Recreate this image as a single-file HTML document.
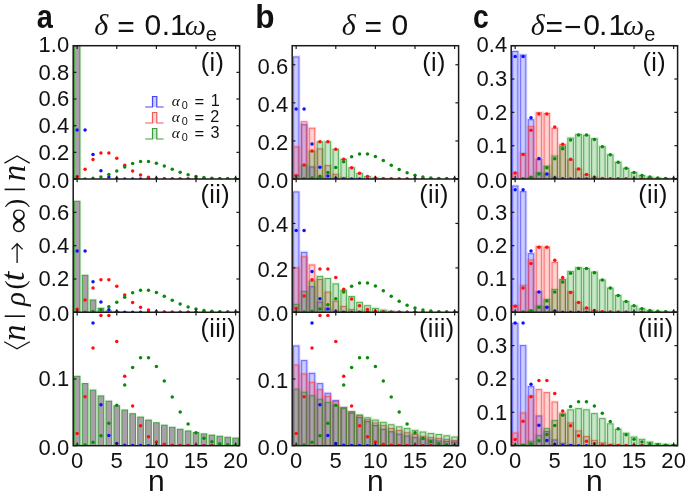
<!DOCTYPE html>
<html><head><meta charset="utf-8"><style>
html,body{margin:0;padding:0;background:#fff;}
svg{display:block;will-change:transform;}
text{font-family:"Liberation Sans", sans-serif;fill:#111;}
.tl{font-size:22px;letter-spacing:0.1px;}
.pl{font-size:25.2px;letter-spacing:0.4px;}
.nl{font-size:30px;}
.cl{font-size:32px;font-weight:bold;}
.tt{font-size:25px;}
.gi{font-family:"Liberation Serif", serif;font-style:italic;}
.sub{font-size:17px;}
.lg{font-size:14.5px;fill:#222;}
.lsub{font-size:11px;}
.yl{font-size:27px;}
.si{font-family:"Liberation Serif", serif;font-style:italic;}
.sr{font-family:"Liberation Serif", serif;}
.ar{font-family:"Liberation Sans", sans-serif;}
</style></head><body>
<svg width="686" height="497" viewBox="0 0 686 497">
<defs>
<clipPath id="c00"><rect x="73.2" y="45.7" width="166.4" height="133.33"/></clipPath>
<clipPath id="c01"><rect x="73.2" y="179" width="166.4" height="133.33"/></clipPath>
<clipPath id="c02"><rect x="73.2" y="312.3" width="166.4" height="133.33"/></clipPath>
<clipPath id="c10"><rect x="292.2" y="45.7" width="166.4" height="133.33"/></clipPath>
<clipPath id="c11"><rect x="292.2" y="179" width="166.4" height="133.33"/></clipPath>
<clipPath id="c12"><rect x="292.2" y="312.3" width="166.4" height="133.33"/></clipPath>
<clipPath id="c20"><rect x="511.2" y="45.7" width="166.4" height="133.33"/></clipPath>
<clipPath id="c21"><rect x="511.2" y="179" width="166.4" height="133.33"/></clipPath>
<clipPath id="c22"><rect x="511.2" y="312.3" width="166.4" height="133.33"/></clipPath>
</defs>
<g clip-path="url(#c00)">
<g fill="none" stroke="rgba(0,170,0,0.07)" stroke-width="3.0">
<rect x="74.35" y="45.7" width="5.63" height="134.33"/>
</g>
<g fill="rgb(170,158,168)" stroke="rgba(40,150,40,0.85)" stroke-width="1">
<rect x="74.35" y="45.7" width="5.63" height="134.33"/>
</g>
<g fill="#1010ff">
<circle cx="77.16" cy="129.98" r="1.75"/>
<circle cx="85.09" cy="129.98" r="1.75"/>
<circle cx="93.01" cy="154.51" r="1.75"/>
<circle cx="100.93" cy="170.86" r="1.75"/>
<circle cx="108.86" cy="176.99" r="1.75"/>
<circle cx="116.78" cy="178.62" r="1.75"/>
<circle cx="124.7" cy="178.96" r="1.75"/>
<circle cx="132.63" cy="179.02" r="1.75"/>
<circle cx="140.55" cy="179.03" r="1.75"/>
<circle cx="148.48" cy="179.03" r="1.75"/>
<circle cx="156.4" cy="179.03" r="1.75"/>
<circle cx="164.32" cy="179.03" r="1.75"/>
<circle cx="172.25" cy="179.03" r="1.75"/>
<circle cx="180.17" cy="179.03" r="1.75"/>
<circle cx="188.1" cy="179.03" r="1.75"/>
<circle cx="196.02" cy="179.03" r="1.75"/>
<circle cx="203.94" cy="179.03" r="1.75"/>
<circle cx="211.87" cy="179.03" r="1.75"/>
<circle cx="219.79" cy="179.03" r="1.75"/>
<circle cx="227.71" cy="179.03" r="1.75"/>
<circle cx="235.64" cy="179.03" r="1.75"/>
</g>
<g fill="#ff1010">
<circle cx="77.16" cy="176.59" r="1.75"/>
<circle cx="85.09" cy="169.26" r="1.75"/>
<circle cx="93.01" cy="159.49" r="1.75"/>
<circle cx="100.93" cy="152.98" r="1.75"/>
<circle cx="108.86" cy="152.98" r="1.75"/>
<circle cx="116.78" cy="158.19" r="1.75"/>
<circle cx="124.7" cy="165.14" r="1.75"/>
<circle cx="132.63" cy="171.09" r="1.75"/>
<circle cx="140.55" cy="175.06" r="1.75"/>
<circle cx="148.48" cy="177.27" r="1.75"/>
<circle cx="156.4" cy="178.32" r="1.75"/>
<circle cx="164.32" cy="178.77" r="1.75"/>
<circle cx="172.25" cy="178.94" r="1.75"/>
<circle cx="180.17" cy="179" r="1.75"/>
<circle cx="188.1" cy="179.02" r="1.75"/>
<circle cx="196.02" cy="179.03" r="1.75"/>
<circle cx="203.94" cy="179.03" r="1.75"/>
<circle cx="211.87" cy="179.03" r="1.75"/>
<circle cx="219.79" cy="179.03" r="1.75"/>
<circle cx="227.71" cy="179.03" r="1.75"/>
<circle cx="235.64" cy="179.03" r="1.75"/>
</g>
<g fill="#0a8a0a">
<circle cx="77.16" cy="179.01" r="1.75"/>
<circle cx="85.09" cy="178.88" r="1.75"/>
<circle cx="93.01" cy="178.36" r="1.75"/>
<circle cx="100.93" cy="177.03" r="1.75"/>
<circle cx="108.86" cy="174.53" r="1.75"/>
<circle cx="116.78" cy="170.93" r="1.75"/>
<circle cx="124.7" cy="166.88" r="1.75"/>
<circle cx="132.63" cy="163.41" r="1.75"/>
<circle cx="140.55" cy="161.46" r="1.75"/>
<circle cx="148.48" cy="161.46" r="1.75"/>
<circle cx="156.4" cy="163.22" r="1.75"/>
<circle cx="164.32" cy="166.09" r="1.75"/>
<circle cx="172.25" cy="169.33" r="1.75"/>
<circle cx="180.17" cy="172.31" r="1.75"/>
<circle cx="188.1" cy="174.71" r="1.75"/>
<circle cx="196.02" cy="176.44" r="1.75"/>
<circle cx="203.94" cy="177.57" r="1.75"/>
<circle cx="211.87" cy="178.26" r="1.75"/>
<circle cx="219.79" cy="178.64" r="1.75"/>
<circle cx="227.71" cy="178.85" r="1.75"/>
<circle cx="235.64" cy="178.95" r="1.75"/>
</g>
</g>
<g stroke="#1a1a1a" stroke-width="1.2">
<line x1="77.16" y1="45.7" x2="77.16" y2="48.9"/>
<line x1="77.16" y1="179.03" x2="77.16" y2="175.83"/>
<line x1="116.78" y1="45.7" x2="116.78" y2="48.9"/>
<line x1="116.78" y1="179.03" x2="116.78" y2="175.83"/>
<line x1="156.4" y1="45.7" x2="156.4" y2="48.9"/>
<line x1="156.4" y1="179.03" x2="156.4" y2="175.83"/>
<line x1="196.02" y1="45.7" x2="196.02" y2="48.9"/>
<line x1="196.02" y1="179.03" x2="196.02" y2="175.83"/>
<line x1="235.64" y1="45.7" x2="235.64" y2="48.9"/>
<line x1="235.64" y1="179.03" x2="235.64" y2="175.83"/>
<line x1="73.2" y1="179.03" x2="76.4" y2="179.03"/>
<line x1="239.6" y1="179.03" x2="236.4" y2="179.03"/>
<line x1="73.2" y1="152.36" x2="76.4" y2="152.36"/>
<line x1="239.6" y1="152.36" x2="236.4" y2="152.36"/>
<line x1="73.2" y1="125.7" x2="76.4" y2="125.7"/>
<line x1="239.6" y1="125.7" x2="236.4" y2="125.7"/>
<line x1="73.2" y1="99.03" x2="76.4" y2="99.03"/>
<line x1="239.6" y1="99.03" x2="236.4" y2="99.03"/>
<line x1="73.2" y1="72.37" x2="76.4" y2="72.37"/>
<line x1="239.6" y1="72.37" x2="236.4" y2="72.37"/>
<line x1="73.2" y1="45.7" x2="76.4" y2="45.7"/>
<line x1="239.6" y1="45.7" x2="236.4" y2="45.7"/>
</g>
<text x="69.4" y="187.93" class="tl" text-anchor="end">0.0</text>
<text x="69.4" y="159.76" class="tl" text-anchor="end">0.2</text>
<text x="69.4" y="133.1" class="tl" text-anchor="end">0.4</text>
<text x="69.4" y="106.43" class="tl" text-anchor="end">0.6</text>
<text x="69.4" y="79.77" class="tl" text-anchor="end">0.8</text>
<text x="69.4" y="51.9" class="tl" text-anchor="end">1.0</text>
<text x="200.8" y="70.6" class="pl">(i)</text>
<g clip-path="url(#c01)">
<g fill="none" stroke="rgba(0,170,0,0.07)" stroke-width="3.0">
<rect x="74.35" y="201.22" width="5.63" height="112.11"/>
<rect x="82.27" y="275.29" width="5.63" height="38.04"/>
<rect x="90.2" y="299.98" width="5.63" height="13.35"/>
<rect x="98.12" y="308.21" width="5.63" height="5.12"/>
<rect x="106.04" y="310.96" width="5.63" height="2.37"/>
<rect x="113.97" y="311.87" width="5.63" height="1.46"/>
<rect x="121.89" y="312.18" width="5.63" height="1.15"/>
</g>
<g fill="rgb(170,158,168)" stroke="rgba(40,150,40,0.85)" stroke-width="1">
<rect x="74.35" y="201.22" width="5.63" height="112.11"/>
<rect x="82.27" y="275.29" width="5.63" height="38.04"/>
<rect x="90.2" y="299.98" width="5.63" height="13.35"/>
<rect x="98.12" y="308.21" width="5.63" height="5.12"/>
<rect x="106.04" y="310.96" width="5.63" height="2.37"/>
<rect x="113.97" y="311.87" width="5.63" height="1.46"/>
<rect x="121.89" y="312.18" width="5.63" height="1.15"/>
</g>
<g fill="#1010ff">
<circle cx="77.16" cy="251.02" r="1.75"/>
<circle cx="85.09" cy="251.02" r="1.75"/>
<circle cx="93.01" cy="281.67" r="1.75"/>
<circle cx="100.93" cy="302.11" r="1.75"/>
<circle cx="108.86" cy="309.78" r="1.75"/>
<circle cx="116.78" cy="311.82" r="1.75"/>
<circle cx="124.7" cy="312.24" r="1.75"/>
<circle cx="132.63" cy="312.32" r="1.75"/>
<circle cx="140.55" cy="312.33" r="1.75"/>
<circle cx="148.48" cy="312.33" r="1.75"/>
<circle cx="156.4" cy="312.33" r="1.75"/>
<circle cx="164.32" cy="312.33" r="1.75"/>
<circle cx="172.25" cy="312.33" r="1.75"/>
<circle cx="180.17" cy="312.33" r="1.75"/>
<circle cx="188.1" cy="312.33" r="1.75"/>
<circle cx="196.02" cy="312.33" r="1.75"/>
<circle cx="203.94" cy="312.33" r="1.75"/>
<circle cx="211.87" cy="312.33" r="1.75"/>
<circle cx="219.79" cy="312.33" r="1.75"/>
<circle cx="227.71" cy="312.33" r="1.75"/>
<circle cx="235.64" cy="312.33" r="1.75"/>
</g>
<g fill="#ff1010">
<circle cx="77.16" cy="309.28" r="1.75"/>
<circle cx="85.09" cy="300.12" r="1.75"/>
<circle cx="93.01" cy="287.91" r="1.75"/>
<circle cx="100.93" cy="279.77" r="1.75"/>
<circle cx="108.86" cy="279.77" r="1.75"/>
<circle cx="116.78" cy="286.28" r="1.75"/>
<circle cx="124.7" cy="294.96" r="1.75"/>
<circle cx="132.63" cy="302.41" r="1.75"/>
<circle cx="140.55" cy="307.37" r="1.75"/>
<circle cx="148.48" cy="310.12" r="1.75"/>
<circle cx="156.4" cy="311.45" r="1.75"/>
<circle cx="164.32" cy="312.01" r="1.75"/>
<circle cx="172.25" cy="312.22" r="1.75"/>
<circle cx="180.17" cy="312.3" r="1.75"/>
<circle cx="188.1" cy="312.32" r="1.75"/>
<circle cx="196.02" cy="312.33" r="1.75"/>
<circle cx="203.94" cy="312.33" r="1.75"/>
<circle cx="211.87" cy="312.33" r="1.75"/>
<circle cx="219.79" cy="312.33" r="1.75"/>
<circle cx="227.71" cy="312.33" r="1.75"/>
<circle cx="235.64" cy="312.33" r="1.75"/>
</g>
<g fill="#0a8a0a">
<circle cx="77.16" cy="312.31" r="1.75"/>
<circle cx="85.09" cy="312.14" r="1.75"/>
<circle cx="93.01" cy="311.5" r="1.75"/>
<circle cx="100.93" cy="309.83" r="1.75"/>
<circle cx="108.86" cy="306.71" r="1.75"/>
<circle cx="116.78" cy="302.21" r="1.75"/>
<circle cx="124.7" cy="297.15" r="1.75"/>
<circle cx="132.63" cy="292.81" r="1.75"/>
<circle cx="140.55" cy="290.37" r="1.75"/>
<circle cx="148.48" cy="290.37" r="1.75"/>
<circle cx="156.4" cy="292.57" r="1.75"/>
<circle cx="164.32" cy="296.16" r="1.75"/>
<circle cx="172.25" cy="300.2" r="1.75"/>
<circle cx="180.17" cy="303.93" r="1.75"/>
<circle cx="188.1" cy="306.93" r="1.75"/>
<circle cx="196.02" cy="309.09" r="1.75"/>
<circle cx="203.94" cy="310.51" r="1.75"/>
<circle cx="211.87" cy="311.37" r="1.75"/>
<circle cx="219.79" cy="311.85" r="1.75"/>
<circle cx="227.71" cy="312.1" r="1.75"/>
<circle cx="235.64" cy="312.23" r="1.75"/>
</g>
</g>
<g stroke="#1a1a1a" stroke-width="1.2">
<line x1="77.16" y1="179" x2="77.16" y2="182.2"/>
<line x1="77.16" y1="312.33" x2="77.16" y2="309.13"/>
<line x1="116.78" y1="179" x2="116.78" y2="182.2"/>
<line x1="116.78" y1="312.33" x2="116.78" y2="309.13"/>
<line x1="156.4" y1="179" x2="156.4" y2="182.2"/>
<line x1="156.4" y1="312.33" x2="156.4" y2="309.13"/>
<line x1="196.02" y1="179" x2="196.02" y2="182.2"/>
<line x1="196.02" y1="312.33" x2="196.02" y2="309.13"/>
<line x1="235.64" y1="179" x2="235.64" y2="182.2"/>
<line x1="235.64" y1="312.33" x2="235.64" y2="309.13"/>
<line x1="73.2" y1="312.33" x2="76.4" y2="312.33"/>
<line x1="239.6" y1="312.33" x2="236.4" y2="312.33"/>
<line x1="73.2" y1="279" x2="76.4" y2="279"/>
<line x1="239.6" y1="279" x2="236.4" y2="279"/>
<line x1="73.2" y1="245.67" x2="76.4" y2="245.67"/>
<line x1="239.6" y1="245.67" x2="236.4" y2="245.67"/>
<line x1="73.2" y1="212.33" x2="76.4" y2="212.33"/>
<line x1="239.6" y1="212.33" x2="236.4" y2="212.33"/>
<line x1="73.2" y1="179" x2="76.4" y2="179"/>
<line x1="239.6" y1="179" x2="236.4" y2="179"/>
</g>
<text x="69.4" y="321.23" class="tl" text-anchor="end">0.0</text>
<text x="69.4" y="286.4" class="tl" text-anchor="end">0.2</text>
<text x="69.4" y="253.07" class="tl" text-anchor="end">0.4</text>
<text x="69.4" y="219.73" class="tl" text-anchor="end">0.6</text>
<text x="200.5" y="202.9" class="pl">(ii)</text>
<g clip-path="url(#c02)">
<g fill="none" stroke="rgba(0,170,0,0.07)" stroke-width="3.0">
<rect x="74.35" y="376.3" width="5.63" height="70.33"/>
<rect x="82.27" y="383.58" width="5.63" height="63.05"/>
<rect x="90.2" y="390.09" width="5.63" height="56.54"/>
<rect x="98.12" y="395.92" width="5.63" height="50.71"/>
<rect x="106.04" y="401.14" width="5.63" height="45.49"/>
<rect x="113.97" y="405.82" width="5.63" height="40.81"/>
<rect x="121.89" y="410" width="5.63" height="36.63"/>
<rect x="129.82" y="413.74" width="5.63" height="32.89"/>
<rect x="137.74" y="417.09" width="5.63" height="29.54"/>
<rect x="145.66" y="420.08" width="5.63" height="26.55"/>
<rect x="153.59" y="422.77" width="5.63" height="23.86"/>
<rect x="161.51" y="425.17" width="5.63" height="21.46"/>
<rect x="169.43" y="427.31" width="5.63" height="19.32"/>
<rect x="177.36" y="429.24" width="5.63" height="17.39"/>
<rect x="185.28" y="430.96" width="5.63" height="15.67"/>
<rect x="193.21" y="432.5" width="5.63" height="14.13"/>
<rect x="201.13" y="433.88" width="5.63" height="12.75"/>
<rect x="209.05" y="435.11" width="5.63" height="11.52"/>
<rect x="216.98" y="436.22" width="5.63" height="10.41"/>
<rect x="224.9" y="437.21" width="5.63" height="9.42"/>
<rect x="232.83" y="438.09" width="5.63" height="8.54"/>
</g>
<g fill="rgb(170,158,168)" stroke="rgba(40,150,40,0.85)" stroke-width="1">
<rect x="74.35" y="376.3" width="5.63" height="70.33"/>
<rect x="82.27" y="383.58" width="5.63" height="63.05"/>
<rect x="90.2" y="390.09" width="5.63" height="56.54"/>
<rect x="98.12" y="395.92" width="5.63" height="50.71"/>
<rect x="106.04" y="401.14" width="5.63" height="45.49"/>
<rect x="113.97" y="405.82" width="5.63" height="40.81"/>
<rect x="121.89" y="410" width="5.63" height="36.63"/>
<rect x="129.82" y="413.74" width="5.63" height="32.89"/>
<rect x="137.74" y="417.09" width="5.63" height="29.54"/>
<rect x="145.66" y="420.08" width="5.63" height="26.55"/>
<rect x="153.59" y="422.77" width="5.63" height="23.86"/>
<rect x="161.51" y="425.17" width="5.63" height="21.46"/>
<rect x="169.43" y="427.31" width="5.63" height="19.32"/>
<rect x="177.36" y="429.24" width="5.63" height="17.39"/>
<rect x="185.28" y="430.96" width="5.63" height="15.67"/>
<rect x="193.21" y="432.5" width="5.63" height="14.13"/>
<rect x="201.13" y="433.88" width="5.63" height="12.75"/>
<rect x="209.05" y="435.11" width="5.63" height="11.52"/>
<rect x="216.98" y="436.22" width="5.63" height="10.41"/>
<rect x="224.9" y="437.21" width="5.63" height="9.42"/>
<rect x="232.83" y="438.09" width="5.63" height="8.54"/>
</g>
<g fill="#1010ff">
<circle cx="93.01" cy="323.01" r="1.75"/>
<circle cx="100.93" cy="404.76" r="1.75"/>
<circle cx="108.86" cy="435.41" r="1.75"/>
<circle cx="116.78" cy="443.59" r="1.75"/>
<circle cx="124.7" cy="445.29" r="1.75"/>
<circle cx="132.63" cy="445.58" r="1.75"/>
<circle cx="140.55" cy="445.62" r="1.75"/>
<circle cx="148.48" cy="445.63" r="1.75"/>
<circle cx="156.4" cy="445.63" r="1.75"/>
<circle cx="164.32" cy="445.63" r="1.75"/>
<circle cx="172.25" cy="445.63" r="1.75"/>
<circle cx="180.17" cy="445.63" r="1.75"/>
<circle cx="188.1" cy="445.63" r="1.75"/>
<circle cx="196.02" cy="445.63" r="1.75"/>
<circle cx="203.94" cy="445.63" r="1.75"/>
<circle cx="211.87" cy="445.63" r="1.75"/>
<circle cx="219.79" cy="445.63" r="1.75"/>
<circle cx="227.71" cy="445.63" r="1.75"/>
<circle cx="235.64" cy="445.63" r="1.75"/>
</g>
<g fill="#ff1010">
<circle cx="77.16" cy="433.42" r="1.75"/>
<circle cx="85.09" cy="396.79" r="1.75"/>
<circle cx="93.01" cy="347.95" r="1.75"/>
<circle cx="100.93" cy="315.39" r="1.75"/>
<circle cx="108.86" cy="315.39" r="1.75"/>
<circle cx="116.78" cy="341.44" r="1.75"/>
<circle cx="124.7" cy="376.17" r="1.75"/>
<circle cx="132.63" cy="405.94" r="1.75"/>
<circle cx="140.55" cy="425.78" r="1.75"/>
<circle cx="148.48" cy="436.81" r="1.75"/>
<circle cx="156.4" cy="442.1" r="1.75"/>
<circle cx="164.32" cy="444.35" r="1.75"/>
<circle cx="172.25" cy="445.2" r="1.75"/>
<circle cx="180.17" cy="445.5" r="1.75"/>
<circle cx="188.1" cy="445.59" r="1.75"/>
<circle cx="196.02" cy="445.62" r="1.75"/>
<circle cx="203.94" cy="445.63" r="1.75"/>
<circle cx="211.87" cy="445.63" r="1.75"/>
<circle cx="219.79" cy="445.63" r="1.75"/>
<circle cx="227.71" cy="445.63" r="1.75"/>
<circle cx="235.64" cy="445.63" r="1.75"/>
</g>
<g fill="#0a8a0a">
<circle cx="77.16" cy="445.55" r="1.75"/>
<circle cx="85.09" cy="444.89" r="1.75"/>
<circle cx="93.01" cy="442.3" r="1.75"/>
<circle cx="100.93" cy="435.63" r="1.75"/>
<circle cx="108.86" cy="423.14" r="1.75"/>
<circle cx="116.78" cy="405.15" r="1.75"/>
<circle cx="124.7" cy="384.9" r="1.75"/>
<circle cx="132.63" cy="367.55" r="1.75"/>
<circle cx="140.55" cy="357.8" r="1.75"/>
<circle cx="148.48" cy="357.8" r="1.75"/>
<circle cx="156.4" cy="366.58" r="1.75"/>
<circle cx="164.32" cy="380.95" r="1.75"/>
<circle cx="172.25" cy="397.12" r="1.75"/>
<circle cx="180.17" cy="412.05" r="1.75"/>
<circle cx="188.1" cy="424.04" r="1.75"/>
<circle cx="196.02" cy="432.68" r="1.75"/>
<circle cx="203.94" cy="438.34" r="1.75"/>
<circle cx="211.87" cy="441.77" r="1.75"/>
<circle cx="219.79" cy="443.7" r="1.75"/>
<circle cx="227.71" cy="444.72" r="1.75"/>
<circle cx="235.64" cy="445.22" r="1.75"/>
</g>
</g>
<g stroke="#1a1a1a" stroke-width="1.2">
<line x1="77.16" y1="312.3" x2="77.16" y2="315.5"/>
<line x1="77.16" y1="445.63" x2="77.16" y2="442.43"/>
<line x1="116.78" y1="312.3" x2="116.78" y2="315.5"/>
<line x1="116.78" y1="445.63" x2="116.78" y2="442.43"/>
<line x1="156.4" y1="312.3" x2="156.4" y2="315.5"/>
<line x1="156.4" y1="445.63" x2="156.4" y2="442.43"/>
<line x1="196.02" y1="312.3" x2="196.02" y2="315.5"/>
<line x1="196.02" y1="445.63" x2="196.02" y2="442.43"/>
<line x1="235.64" y1="312.3" x2="235.64" y2="315.5"/>
<line x1="235.64" y1="445.63" x2="235.64" y2="442.43"/>
<line x1="73.2" y1="445.63" x2="76.4" y2="445.63"/>
<line x1="239.6" y1="445.63" x2="236.4" y2="445.63"/>
<line x1="73.2" y1="378.96" x2="76.4" y2="378.96"/>
<line x1="239.6" y1="378.96" x2="236.4" y2="378.96"/>
<line x1="73.2" y1="312.3" x2="76.4" y2="312.3"/>
<line x1="239.6" y1="312.3" x2="236.4" y2="312.3"/>
</g>
<text x="69.4" y="454.53" class="tl" text-anchor="end">0.0</text>
<text x="69.4" y="386.37" class="tl" text-anchor="end">0.1</text>
<text x="200.5" y="336.7" class="pl">(iii)</text>
<g fill="none" stroke="#1a1a1a" stroke-width="1.5">
<rect x="73.2" y="45.7" width="166.4" height="399.99"/>
<line x1="73.2" y1="179" x2="239.6" y2="179"/>
<line x1="73.2" y1="312.3" x2="239.6" y2="312.3"/>
</g>
<text x="77.16" y="467.8" class="tl" text-anchor="middle">0</text>
<text x="116.78" y="467.8" class="tl" text-anchor="middle">5</text>
<text x="156.4" y="467.8" class="tl" text-anchor="middle">10</text>
<text x="196.02" y="467.8" class="tl" text-anchor="middle">15</text>
<text x="235.64" y="467.8" class="tl" text-anchor="middle">20</text>
<text x="156.4" y="491" class="nl" text-anchor="middle">n</text>
<g clip-path="url(#c10)">
<g fill="none" stroke="rgba(0,0,255,0.10)" stroke-width="3.2">
<rect x="293.35" y="56.9" width="5.63" height="123.13"/>
<rect x="301.27" y="124.75" width="5.63" height="55.28"/>
<rect x="309.2" y="166.97" width="5.63" height="13.06"/>
<rect x="317.12" y="177.24" width="5.63" height="2.79"/>
<rect x="325.04" y="178.83" width="5.63" height="1.2"/>
</g>
<g fill="none" stroke="rgba(255,0,0,0.10)" stroke-width="3.2">
<rect x="293.35" y="146.84" width="5.63" height="33.19"/>
<rect x="301.27" y="121.8" width="5.63" height="58.23"/>
<rect x="309.2" y="128.16" width="5.63" height="51.87"/>
<rect x="317.12" y="148.88" width="5.63" height="31.15"/>
<rect x="325.04" y="165.63" width="5.63" height="14.4"/>
<rect x="332.97" y="174.27" width="5.63" height="5.76"/>
<rect x="340.89" y="177.62" width="5.63" height="2.41"/>
<rect x="348.82" y="178.67" width="5.63" height="1.36"/>
<rect x="356.74" y="178.95" width="5.63" height="1.08"/>
</g>
<g fill="none" stroke="rgba(0,160,0,0.12)" stroke-width="3.2">
<rect x="293.35" y="175.54" width="5.63" height="4.49"/>
<rect x="301.27" y="165.08" width="5.63" height="14.95"/>
<rect x="309.2" y="151.12" width="5.63" height="28.91"/>
<rect x="317.12" y="141.82" width="5.63" height="38.21"/>
<rect x="325.04" y="141.82" width="5.63" height="38.21"/>
<rect x="332.97" y="149.26" width="5.63" height="30.77"/>
<rect x="340.89" y="159.18" width="5.63" height="20.85"/>
<rect x="348.82" y="167.69" width="5.63" height="12.34"/>
<rect x="356.74" y="173.36" width="5.63" height="6.67"/>
<rect x="364.66" y="176.51" width="5.63" height="3.52"/>
<rect x="372.59" y="178.02" width="5.63" height="2.01"/>
<rect x="380.51" y="178.66" width="5.63" height="1.37"/>
<rect x="388.43" y="178.91" width="5.63" height="1.12"/>
</g>
<g fill="#0000ff" fill-opacity="0.2" stroke="rgba(70,70,255,0.85)" stroke-width="0.85">
<rect x="293.35" y="56.9" width="5.63" height="123.13"/>
<rect x="301.27" y="124.75" width="5.63" height="55.28"/>
<rect x="309.2" y="166.97" width="5.63" height="13.06"/>
<rect x="317.12" y="177.24" width="5.63" height="2.79"/>
<rect x="325.04" y="178.83" width="5.63" height="1.2"/>
</g>
<g fill="#ff0000" fill-opacity="0.17" stroke="rgba(255,70,70,0.85)" stroke-width="0.85">
<rect x="293.35" y="146.84" width="5.63" height="33.19"/>
<rect x="301.27" y="121.8" width="5.63" height="58.23"/>
<rect x="309.2" y="128.16" width="5.63" height="51.87"/>
<rect x="317.12" y="148.88" width="5.63" height="31.15"/>
<rect x="325.04" y="165.63" width="5.63" height="14.4"/>
<rect x="332.97" y="174.27" width="5.63" height="5.76"/>
<rect x="340.89" y="177.62" width="5.63" height="2.41"/>
<rect x="348.82" y="178.67" width="5.63" height="1.36"/>
<rect x="356.74" y="178.95" width="5.63" height="1.08"/>
</g>
<g fill="#008000" fill-opacity="0.2" stroke="rgba(40,150,40,0.8)" stroke-width="0.85">
<rect x="293.35" y="175.54" width="5.63" height="4.49"/>
<rect x="301.27" y="165.08" width="5.63" height="14.95"/>
<rect x="309.2" y="151.12" width="5.63" height="28.91"/>
<rect x="317.12" y="141.82" width="5.63" height="38.21"/>
<rect x="325.04" y="141.82" width="5.63" height="38.21"/>
<rect x="332.97" y="149.26" width="5.63" height="30.77"/>
<rect x="340.89" y="159.18" width="5.63" height="20.85"/>
<rect x="348.82" y="167.69" width="5.63" height="12.34"/>
<rect x="356.74" y="173.36" width="5.63" height="6.67"/>
<rect x="364.66" y="176.51" width="5.63" height="3.52"/>
<rect x="372.59" y="178.02" width="5.63" height="2.01"/>
<rect x="380.51" y="178.66" width="5.63" height="1.37"/>
<rect x="388.43" y="178.91" width="5.63" height="1.12"/>
</g>
<g fill="#1010ff">
<circle cx="296.16" cy="108.96" r="1.75"/>
<circle cx="304.09" cy="108.96" r="1.75"/>
<circle cx="312.01" cy="143.99" r="1.75"/>
<circle cx="319.93" cy="167.35" r="1.75"/>
<circle cx="327.86" cy="176.11" r="1.75"/>
<circle cx="335.78" cy="178.45" r="1.75"/>
<circle cx="343.7" cy="178.93" r="1.75"/>
<circle cx="351.63" cy="179.02" r="1.75"/>
<circle cx="359.55" cy="179.03" r="1.75"/>
<circle cx="367.48" cy="179.03" r="1.75"/>
<circle cx="375.4" cy="179.03" r="1.75"/>
<circle cx="383.32" cy="179.03" r="1.75"/>
<circle cx="391.25" cy="179.03" r="1.75"/>
<circle cx="399.17" cy="179.03" r="1.75"/>
<circle cx="407.1" cy="179.03" r="1.75"/>
<circle cx="415.02" cy="179.03" r="1.75"/>
<circle cx="422.94" cy="179.03" r="1.75"/>
<circle cx="430.87" cy="179.03" r="1.75"/>
<circle cx="438.79" cy="179.03" r="1.75"/>
<circle cx="446.71" cy="179.03" r="1.75"/>
<circle cx="454.64" cy="179.03" r="1.75"/>
</g>
<g fill="#ff1010">
<circle cx="296.16" cy="175.54" r="1.75"/>
<circle cx="304.09" cy="165.08" r="1.75"/>
<circle cx="312.01" cy="151.12" r="1.75"/>
<circle cx="319.93" cy="141.82" r="1.75"/>
<circle cx="327.86" cy="141.82" r="1.75"/>
<circle cx="335.78" cy="149.26" r="1.75"/>
<circle cx="343.7" cy="159.18" r="1.75"/>
<circle cx="351.63" cy="167.69" r="1.75"/>
<circle cx="359.55" cy="173.36" r="1.75"/>
<circle cx="367.48" cy="176.51" r="1.75"/>
<circle cx="375.4" cy="178.02" r="1.75"/>
<circle cx="383.32" cy="178.66" r="1.75"/>
<circle cx="391.25" cy="178.91" r="1.75"/>
<circle cx="399.17" cy="178.99" r="1.75"/>
<circle cx="407.1" cy="179.02" r="1.75"/>
<circle cx="415.02" cy="179.03" r="1.75"/>
<circle cx="422.94" cy="179.03" r="1.75"/>
<circle cx="430.87" cy="179.03" r="1.75"/>
<circle cx="438.79" cy="179.03" r="1.75"/>
<circle cx="446.71" cy="179.03" r="1.75"/>
<circle cx="454.64" cy="179.03" r="1.75"/>
</g>
<g fill="#0a8a0a">
<circle cx="296.16" cy="179.01" r="1.75"/>
<circle cx="304.09" cy="178.82" r="1.75"/>
<circle cx="312.01" cy="178.08" r="1.75"/>
<circle cx="319.93" cy="176.17" r="1.75"/>
<circle cx="327.86" cy="172.6" r="1.75"/>
<circle cx="335.78" cy="167.46" r="1.75"/>
<circle cx="343.7" cy="161.68" r="1.75"/>
<circle cx="351.63" cy="156.72" r="1.75"/>
<circle cx="359.55" cy="153.93" r="1.75"/>
<circle cx="367.48" cy="153.93" r="1.75"/>
<circle cx="375.4" cy="156.44" r="1.75"/>
<circle cx="383.32" cy="160.55" r="1.75"/>
<circle cx="391.25" cy="165.17" r="1.75"/>
<circle cx="399.17" cy="169.43" r="1.75"/>
<circle cx="407.1" cy="172.86" r="1.75"/>
<circle cx="415.02" cy="175.33" r="1.75"/>
<circle cx="422.94" cy="176.95" r="1.75"/>
<circle cx="430.87" cy="177.93" r="1.75"/>
<circle cx="438.79" cy="178.48" r="1.75"/>
<circle cx="446.71" cy="178.77" r="1.75"/>
<circle cx="454.64" cy="178.91" r="1.75"/>
</g>
</g>
<g stroke="#1a1a1a" stroke-width="1.2">
<line x1="296.16" y1="45.7" x2="296.16" y2="48.9"/>
<line x1="296.16" y1="179.03" x2="296.16" y2="175.83"/>
<line x1="335.78" y1="45.7" x2="335.78" y2="48.9"/>
<line x1="335.78" y1="179.03" x2="335.78" y2="175.83"/>
<line x1="375.4" y1="45.7" x2="375.4" y2="48.9"/>
<line x1="375.4" y1="179.03" x2="375.4" y2="175.83"/>
<line x1="415.02" y1="45.7" x2="415.02" y2="48.9"/>
<line x1="415.02" y1="179.03" x2="415.02" y2="175.83"/>
<line x1="454.64" y1="45.7" x2="454.64" y2="48.9"/>
<line x1="454.64" y1="179.03" x2="454.64" y2="175.83"/>
<line x1="292.2" y1="179.03" x2="295.4" y2="179.03"/>
<line x1="458.6" y1="179.03" x2="455.4" y2="179.03"/>
<line x1="292.2" y1="140.94" x2="295.4" y2="140.94"/>
<line x1="458.6" y1="140.94" x2="455.4" y2="140.94"/>
<line x1="292.2" y1="102.84" x2="295.4" y2="102.84"/>
<line x1="458.6" y1="102.84" x2="455.4" y2="102.84"/>
<line x1="292.2" y1="64.75" x2="295.4" y2="64.75"/>
<line x1="458.6" y1="64.75" x2="455.4" y2="64.75"/>
</g>
<text x="288.4" y="188.03" class="tl" text-anchor="end">0.0</text>
<text x="288.4" y="149.94" class="tl" text-anchor="end">0.2</text>
<text x="288.4" y="111.84" class="tl" text-anchor="end">0.4</text>
<text x="288.4" y="73.75" class="tl" text-anchor="end">0.6</text>
<text x="422.3" y="70.6" class="pl">(i)</text>
<g clip-path="url(#c11)">
<g fill="none" stroke="rgba(0,0,255,0.10)" stroke-width="3.2">
<rect x="293.35" y="191.89" width="5.63" height="121.44"/>
<rect x="301.27" y="252.33" width="5.63" height="61"/>
<rect x="309.2" y="286.78" width="5.63" height="26.55"/>
<rect x="317.12" y="302.11" width="5.63" height="11.22"/>
<rect x="325.04" y="308.77" width="5.63" height="4.56"/>
<rect x="332.97" y="311.22" width="5.63" height="2.11"/>
<rect x="340.89" y="311.89" width="5.63" height="1.44"/>
</g>
<g fill="none" stroke="rgba(255,0,0,0.10)" stroke-width="3.2">
<rect x="293.35" y="267.89" width="5.63" height="45.44"/>
<rect x="301.27" y="256.78" width="5.63" height="56.55"/>
<rect x="309.2" y="264.89" width="5.63" height="48.44"/>
<rect x="317.12" y="279.44" width="5.63" height="33.89"/>
<rect x="325.04" y="292.11" width="5.63" height="21.22"/>
<rect x="332.97" y="301.22" width="5.63" height="12.11"/>
<rect x="340.89" y="306.55" width="5.63" height="6.78"/>
<rect x="348.82" y="309.66" width="5.63" height="3.67"/>
<rect x="356.74" y="311.22" width="5.63" height="2.11"/>
<rect x="364.66" y="311.89" width="5.63" height="1.44"/>
</g>
<g fill="none" stroke="rgba(0,160,0,0.12)" stroke-width="3.2">
<rect x="293.35" y="304.33" width="5.63" height="9"/>
<rect x="301.27" y="291.44" width="5.63" height="21.89"/>
<rect x="309.2" y="281.11" width="5.63" height="32.22"/>
<rect x="317.12" y="276.33" width="5.63" height="37"/>
<rect x="325.04" y="278.55" width="5.63" height="34.78"/>
<rect x="332.97" y="283.89" width="5.63" height="29.44"/>
<rect x="340.89" y="290.55" width="5.63" height="22.78"/>
<rect x="348.82" y="296.55" width="5.63" height="16.78"/>
<rect x="356.74" y="302.33" width="5.63" height="11"/>
<rect x="364.66" y="305.66" width="5.63" height="7.67"/>
<rect x="372.59" y="308.33" width="5.63" height="5"/>
<rect x="380.51" y="310.11" width="5.63" height="3.22"/>
<rect x="388.43" y="311.22" width="5.63" height="2.11"/>
<rect x="396.36" y="311.89" width="5.63" height="1.44"/>
</g>
<g fill="#0000ff" fill-opacity="0.2" stroke="rgba(70,70,255,0.85)" stroke-width="0.85">
<rect x="293.35" y="191.89" width="5.63" height="121.44"/>
<rect x="301.27" y="252.33" width="5.63" height="61"/>
<rect x="309.2" y="286.78" width="5.63" height="26.55"/>
<rect x="317.12" y="302.11" width="5.63" height="11.22"/>
<rect x="325.04" y="308.77" width="5.63" height="4.56"/>
<rect x="332.97" y="311.22" width="5.63" height="2.11"/>
<rect x="340.89" y="311.89" width="5.63" height="1.44"/>
</g>
<g fill="#ff0000" fill-opacity="0.17" stroke="rgba(255,70,70,0.85)" stroke-width="0.85">
<rect x="293.35" y="267.89" width="5.63" height="45.44"/>
<rect x="301.27" y="256.78" width="5.63" height="56.55"/>
<rect x="309.2" y="264.89" width="5.63" height="48.44"/>
<rect x="317.12" y="279.44" width="5.63" height="33.89"/>
<rect x="325.04" y="292.11" width="5.63" height="21.22"/>
<rect x="332.97" y="301.22" width="5.63" height="12.11"/>
<rect x="340.89" y="306.55" width="5.63" height="6.78"/>
<rect x="348.82" y="309.66" width="5.63" height="3.67"/>
<rect x="356.74" y="311.22" width="5.63" height="2.11"/>
<rect x="364.66" y="311.89" width="5.63" height="1.44"/>
</g>
<g fill="#008000" fill-opacity="0.2" stroke="rgba(40,150,40,0.8)" stroke-width="0.85">
<rect x="293.35" y="304.33" width="5.63" height="9"/>
<rect x="301.27" y="291.44" width="5.63" height="21.89"/>
<rect x="309.2" y="281.11" width="5.63" height="32.22"/>
<rect x="317.12" y="276.33" width="5.63" height="37"/>
<rect x="325.04" y="278.55" width="5.63" height="34.78"/>
<rect x="332.97" y="283.89" width="5.63" height="29.44"/>
<rect x="340.89" y="290.55" width="5.63" height="22.78"/>
<rect x="348.82" y="296.55" width="5.63" height="16.78"/>
<rect x="356.74" y="302.33" width="5.63" height="11"/>
<rect x="364.66" y="305.66" width="5.63" height="7.67"/>
<rect x="372.59" y="308.33" width="5.63" height="5"/>
<rect x="380.51" y="310.11" width="5.63" height="3.22"/>
<rect x="388.43" y="311.22" width="5.63" height="2.11"/>
<rect x="396.36" y="311.89" width="5.63" height="1.44"/>
</g>
<g fill="#1010ff">
<circle cx="296.16" cy="230.58" r="1.75"/>
<circle cx="304.09" cy="230.58" r="1.75"/>
<circle cx="312.01" cy="271.46" r="1.75"/>
<circle cx="319.93" cy="298.71" r="1.75"/>
<circle cx="327.86" cy="308.92" r="1.75"/>
<circle cx="335.78" cy="311.65" r="1.75"/>
<circle cx="343.7" cy="312.22" r="1.75"/>
<circle cx="351.63" cy="312.31" r="1.75"/>
<circle cx="359.55" cy="312.33" r="1.75"/>
<circle cx="367.48" cy="312.33" r="1.75"/>
<circle cx="375.4" cy="312.33" r="1.75"/>
<circle cx="383.32" cy="312.33" r="1.75"/>
<circle cx="391.25" cy="312.33" r="1.75"/>
<circle cx="399.17" cy="312.33" r="1.75"/>
<circle cx="407.1" cy="312.33" r="1.75"/>
<circle cx="415.02" cy="312.33" r="1.75"/>
<circle cx="422.94" cy="312.33" r="1.75"/>
<circle cx="430.87" cy="312.33" r="1.75"/>
<circle cx="438.79" cy="312.33" r="1.75"/>
<circle cx="446.71" cy="312.33" r="1.75"/>
<circle cx="454.64" cy="312.33" r="1.75"/>
</g>
<g fill="#ff1010">
<circle cx="296.16" cy="308.26" r="1.75"/>
<circle cx="304.09" cy="296.05" r="1.75"/>
<circle cx="312.01" cy="279.77" r="1.75"/>
<circle cx="319.93" cy="268.92" r="1.75"/>
<circle cx="327.86" cy="268.92" r="1.75"/>
<circle cx="335.78" cy="277.6" r="1.75"/>
<circle cx="343.7" cy="289.18" r="1.75"/>
<circle cx="351.63" cy="299.1" r="1.75"/>
<circle cx="359.55" cy="305.71" r="1.75"/>
<circle cx="367.48" cy="309.39" r="1.75"/>
<circle cx="375.4" cy="311.15" r="1.75"/>
<circle cx="383.32" cy="311.9" r="1.75"/>
<circle cx="391.25" cy="312.19" r="1.75"/>
<circle cx="399.17" cy="312.29" r="1.75"/>
<circle cx="407.1" cy="312.32" r="1.75"/>
<circle cx="415.02" cy="312.33" r="1.75"/>
<circle cx="422.94" cy="312.33" r="1.75"/>
<circle cx="430.87" cy="312.33" r="1.75"/>
<circle cx="438.79" cy="312.33" r="1.75"/>
<circle cx="446.71" cy="312.33" r="1.75"/>
<circle cx="454.64" cy="312.33" r="1.75"/>
</g>
<g fill="#0a8a0a">
<circle cx="296.16" cy="312.3" r="1.75"/>
<circle cx="304.09" cy="312.08" r="1.75"/>
<circle cx="312.01" cy="311.22" r="1.75"/>
<circle cx="319.93" cy="309" r="1.75"/>
<circle cx="327.86" cy="304.83" r="1.75"/>
<circle cx="335.78" cy="298.84" r="1.75"/>
<circle cx="343.7" cy="292.09" r="1.75"/>
<circle cx="351.63" cy="286.3" r="1.75"/>
<circle cx="359.55" cy="283.05" r="1.75"/>
<circle cx="367.48" cy="283.05" r="1.75"/>
<circle cx="375.4" cy="285.98" r="1.75"/>
<circle cx="383.32" cy="290.77" r="1.75"/>
<circle cx="391.25" cy="296.16" r="1.75"/>
<circle cx="399.17" cy="301.14" r="1.75"/>
<circle cx="407.1" cy="305.13" r="1.75"/>
<circle cx="415.02" cy="308.01" r="1.75"/>
<circle cx="422.94" cy="309.9" r="1.75"/>
<circle cx="430.87" cy="311.04" r="1.75"/>
<circle cx="438.79" cy="311.69" r="1.75"/>
<circle cx="446.71" cy="312.03" r="1.75"/>
<circle cx="454.64" cy="312.19" r="1.75"/>
</g>
</g>
<g stroke="#1a1a1a" stroke-width="1.2">
<line x1="296.16" y1="179" x2="296.16" y2="182.2"/>
<line x1="296.16" y1="312.33" x2="296.16" y2="309.13"/>
<line x1="335.78" y1="179" x2="335.78" y2="182.2"/>
<line x1="335.78" y1="312.33" x2="335.78" y2="309.13"/>
<line x1="375.4" y1="179" x2="375.4" y2="182.2"/>
<line x1="375.4" y1="312.33" x2="375.4" y2="309.13"/>
<line x1="415.02" y1="179" x2="415.02" y2="182.2"/>
<line x1="415.02" y1="312.33" x2="415.02" y2="309.13"/>
<line x1="454.64" y1="179" x2="454.64" y2="182.2"/>
<line x1="454.64" y1="312.33" x2="454.64" y2="309.13"/>
<line x1="292.2" y1="312.33" x2="295.4" y2="312.33"/>
<line x1="458.6" y1="312.33" x2="455.4" y2="312.33"/>
<line x1="292.2" y1="267.89" x2="295.4" y2="267.89"/>
<line x1="458.6" y1="267.89" x2="455.4" y2="267.89"/>
<line x1="292.2" y1="223.44" x2="295.4" y2="223.44"/>
<line x1="458.6" y1="223.44" x2="455.4" y2="223.44"/>
<line x1="292.2" y1="179" x2="295.4" y2="179"/>
<line x1="458.6" y1="179" x2="455.4" y2="179"/>
</g>
<text x="288.4" y="321.33" class="tl" text-anchor="end">0.0</text>
<text x="288.4" y="276.89" class="tl" text-anchor="end">0.2</text>
<text x="288.4" y="232.44" class="tl" text-anchor="end">0.4</text>
<text x="419.2" y="202.9" class="pl">(ii)</text>
<g clip-path="url(#c12)">
<g fill="none" stroke="rgba(0,0,255,0.10)" stroke-width="3.2">
<rect x="293.35" y="345.9" width="5.63" height="100.73"/>
<rect x="301.27" y="360.63" width="5.63" height="86"/>
<rect x="309.2" y="373.3" width="5.63" height="73.33"/>
<rect x="317.12" y="383.63" width="5.63" height="63"/>
<rect x="325.04" y="393.23" width="5.63" height="53.4"/>
<rect x="332.97" y="400.63" width="5.63" height="46"/>
<rect x="340.89" y="407.63" width="5.63" height="39"/>
<rect x="348.82" y="412.96" width="5.63" height="33.67"/>
<rect x="356.74" y="417.63" width="5.63" height="29"/>
<rect x="364.66" y="421.63" width="5.63" height="25"/>
<rect x="372.59" y="425.63" width="5.63" height="21"/>
<rect x="380.51" y="429.23" width="5.63" height="17.4"/>
<rect x="388.43" y="431.76" width="5.63" height="14.87"/>
<rect x="396.36" y="434.16" width="5.63" height="12.47"/>
<rect x="404.28" y="435.96" width="5.63" height="10.67"/>
<rect x="412.21" y="437.63" width="5.63" height="9"/>
<rect x="420.13" y="438.96" width="5.63" height="7.67"/>
<rect x="428.05" y="439.96" width="5.63" height="6.67"/>
<rect x="435.98" y="440.96" width="5.63" height="5.67"/>
<rect x="443.9" y="441.63" width="5.63" height="5"/>
<rect x="451.83" y="441.96" width="5.63" height="4.67"/>
</g>
<g fill="none" stroke="rgba(255,0,0,0.10)" stroke-width="3.2">
<rect x="293.35" y="364.97" width="5.63" height="81.66"/>
<rect x="301.27" y="373.97" width="5.63" height="72.66"/>
<rect x="309.2" y="382.3" width="5.63" height="64.33"/>
<rect x="317.12" y="389.63" width="5.63" height="57"/>
<rect x="325.04" y="396.3" width="5.63" height="50.33"/>
<rect x="332.97" y="401.3" width="5.63" height="45.33"/>
<rect x="340.89" y="407.63" width="5.63" height="39"/>
<rect x="348.82" y="411.63" width="5.63" height="35"/>
<rect x="356.74" y="415.63" width="5.63" height="31"/>
<rect x="364.66" y="419.63" width="5.63" height="27"/>
<rect x="372.59" y="422.96" width="5.63" height="23.67"/>
<rect x="380.51" y="425.63" width="5.63" height="21"/>
<rect x="388.43" y="428.56" width="5.63" height="18.07"/>
<rect x="396.36" y="430.63" width="5.63" height="16"/>
<rect x="404.28" y="432.76" width="5.63" height="13.87"/>
<rect x="412.21" y="434.63" width="5.63" height="12"/>
<rect x="420.13" y="436.3" width="5.63" height="10.33"/>
<rect x="428.05" y="437.63" width="5.63" height="9"/>
<rect x="435.98" y="438.63" width="5.63" height="8"/>
<rect x="443.9" y="439.63" width="5.63" height="7"/>
<rect x="451.83" y="440.5" width="5.63" height="6.13"/>
</g>
<g fill="none" stroke="rgba(0,160,0,0.12)" stroke-width="3.2">
<rect x="293.35" y="389.16" width="5.63" height="57.47"/>
<rect x="301.27" y="392.3" width="5.63" height="54.33"/>
<rect x="309.2" y="395.76" width="5.63" height="50.87"/>
<rect x="317.12" y="399.23" width="5.63" height="47.4"/>
<rect x="325.04" y="402.5" width="5.63" height="44.13"/>
<rect x="332.97" y="405.63" width="5.63" height="41"/>
<rect x="340.89" y="408.43" width="5.63" height="38.2"/>
<rect x="348.82" y="411.9" width="5.63" height="34.73"/>
<rect x="356.74" y="414.96" width="5.63" height="31.67"/>
<rect x="364.66" y="417.76" width="5.63" height="28.87"/>
<rect x="372.59" y="420.03" width="5.63" height="26.6"/>
<rect x="380.51" y="422.3" width="5.63" height="24.33"/>
<rect x="388.43" y="424.76" width="5.63" height="21.87"/>
<rect x="396.36" y="426.83" width="5.63" height="19.8"/>
<rect x="404.28" y="428.56" width="5.63" height="18.07"/>
<rect x="412.21" y="430.36" width="5.63" height="16.27"/>
<rect x="420.13" y="432.03" width="5.63" height="14.6"/>
<rect x="428.05" y="433.43" width="5.63" height="13.2"/>
<rect x="435.98" y="434.56" width="5.63" height="12.07"/>
<rect x="443.9" y="435.76" width="5.63" height="10.87"/>
<rect x="451.83" y="436.96" width="5.63" height="9.67"/>
</g>
<g fill="#0000ff" fill-opacity="0.2" stroke="rgba(70,70,255,0.85)" stroke-width="0.85">
<rect x="293.35" y="345.9" width="5.63" height="100.73"/>
<rect x="301.27" y="360.63" width="5.63" height="86"/>
<rect x="309.2" y="373.3" width="5.63" height="73.33"/>
<rect x="317.12" y="383.63" width="5.63" height="63"/>
<rect x="325.04" y="393.23" width="5.63" height="53.4"/>
<rect x="332.97" y="400.63" width="5.63" height="46"/>
<rect x="340.89" y="407.63" width="5.63" height="39"/>
<rect x="348.82" y="412.96" width="5.63" height="33.67"/>
<rect x="356.74" y="417.63" width="5.63" height="29"/>
<rect x="364.66" y="421.63" width="5.63" height="25"/>
<rect x="372.59" y="425.63" width="5.63" height="21"/>
<rect x="380.51" y="429.23" width="5.63" height="17.4"/>
<rect x="388.43" y="431.76" width="5.63" height="14.87"/>
<rect x="396.36" y="434.16" width="5.63" height="12.47"/>
<rect x="404.28" y="435.96" width="5.63" height="10.67"/>
<rect x="412.21" y="437.63" width="5.63" height="9"/>
<rect x="420.13" y="438.96" width="5.63" height="7.67"/>
<rect x="428.05" y="439.96" width="5.63" height="6.67"/>
<rect x="435.98" y="440.96" width="5.63" height="5.67"/>
<rect x="443.9" y="441.63" width="5.63" height="5"/>
<rect x="451.83" y="441.96" width="5.63" height="4.67"/>
</g>
<g fill="#ff0000" fill-opacity="0.17" stroke="rgba(255,70,70,0.85)" stroke-width="0.85">
<rect x="293.35" y="364.97" width="5.63" height="81.66"/>
<rect x="301.27" y="373.97" width="5.63" height="72.66"/>
<rect x="309.2" y="382.3" width="5.63" height="64.33"/>
<rect x="317.12" y="389.63" width="5.63" height="57"/>
<rect x="325.04" y="396.3" width="5.63" height="50.33"/>
<rect x="332.97" y="401.3" width="5.63" height="45.33"/>
<rect x="340.89" y="407.63" width="5.63" height="39"/>
<rect x="348.82" y="411.63" width="5.63" height="35"/>
<rect x="356.74" y="415.63" width="5.63" height="31"/>
<rect x="364.66" y="419.63" width="5.63" height="27"/>
<rect x="372.59" y="422.96" width="5.63" height="23.67"/>
<rect x="380.51" y="425.63" width="5.63" height="21"/>
<rect x="388.43" y="428.56" width="5.63" height="18.07"/>
<rect x="396.36" y="430.63" width="5.63" height="16"/>
<rect x="404.28" y="432.76" width="5.63" height="13.87"/>
<rect x="412.21" y="434.63" width="5.63" height="12"/>
<rect x="420.13" y="436.3" width="5.63" height="10.33"/>
<rect x="428.05" y="437.63" width="5.63" height="9"/>
<rect x="435.98" y="438.63" width="5.63" height="8"/>
<rect x="443.9" y="439.63" width="5.63" height="7"/>
<rect x="451.83" y="440.5" width="5.63" height="6.13"/>
</g>
<g fill="#008000" fill-opacity="0.2" stroke="rgba(40,150,40,0.8)" stroke-width="0.85">
<rect x="293.35" y="389.16" width="5.63" height="57.47"/>
<rect x="301.27" y="392.3" width="5.63" height="54.33"/>
<rect x="309.2" y="395.76" width="5.63" height="50.87"/>
<rect x="317.12" y="399.23" width="5.63" height="47.4"/>
<rect x="325.04" y="402.5" width="5.63" height="44.13"/>
<rect x="332.97" y="405.63" width="5.63" height="41"/>
<rect x="340.89" y="408.43" width="5.63" height="38.2"/>
<rect x="348.82" y="411.9" width="5.63" height="34.73"/>
<rect x="356.74" y="414.96" width="5.63" height="31.67"/>
<rect x="364.66" y="417.76" width="5.63" height="28.87"/>
<rect x="372.59" y="420.03" width="5.63" height="26.6"/>
<rect x="380.51" y="422.3" width="5.63" height="24.33"/>
<rect x="388.43" y="424.76" width="5.63" height="21.87"/>
<rect x="396.36" y="426.83" width="5.63" height="19.8"/>
<rect x="404.28" y="428.56" width="5.63" height="18.07"/>
<rect x="412.21" y="430.36" width="5.63" height="16.27"/>
<rect x="420.13" y="432.03" width="5.63" height="14.6"/>
<rect x="428.05" y="433.43" width="5.63" height="13.2"/>
<rect x="435.98" y="434.56" width="5.63" height="12.07"/>
<rect x="443.9" y="435.76" width="5.63" height="10.87"/>
<rect x="451.83" y="436.96" width="5.63" height="9.67"/>
</g>
<g fill="#1010ff">
<circle cx="312.01" cy="323.01" r="1.75"/>
<circle cx="319.93" cy="404.76" r="1.75"/>
<circle cx="327.86" cy="435.41" r="1.75"/>
<circle cx="335.78" cy="443.59" r="1.75"/>
<circle cx="343.7" cy="445.29" r="1.75"/>
<circle cx="351.63" cy="445.58" r="1.75"/>
<circle cx="359.55" cy="445.62" r="1.75"/>
<circle cx="367.48" cy="445.63" r="1.75"/>
<circle cx="375.4" cy="445.63" r="1.75"/>
<circle cx="383.32" cy="445.63" r="1.75"/>
<circle cx="391.25" cy="445.63" r="1.75"/>
<circle cx="399.17" cy="445.63" r="1.75"/>
<circle cx="407.1" cy="445.63" r="1.75"/>
<circle cx="415.02" cy="445.63" r="1.75"/>
<circle cx="422.94" cy="445.63" r="1.75"/>
<circle cx="430.87" cy="445.63" r="1.75"/>
<circle cx="438.79" cy="445.63" r="1.75"/>
<circle cx="446.71" cy="445.63" r="1.75"/>
<circle cx="454.64" cy="445.63" r="1.75"/>
</g>
<g fill="#ff1010">
<circle cx="296.16" cy="433.42" r="1.75"/>
<circle cx="304.09" cy="396.79" r="1.75"/>
<circle cx="312.01" cy="347.95" r="1.75"/>
<circle cx="319.93" cy="315.39" r="1.75"/>
<circle cx="327.86" cy="315.39" r="1.75"/>
<circle cx="335.78" cy="341.44" r="1.75"/>
<circle cx="343.7" cy="376.17" r="1.75"/>
<circle cx="351.63" cy="405.94" r="1.75"/>
<circle cx="359.55" cy="425.78" r="1.75"/>
<circle cx="367.48" cy="436.81" r="1.75"/>
<circle cx="375.4" cy="442.1" r="1.75"/>
<circle cx="383.32" cy="444.35" r="1.75"/>
<circle cx="391.25" cy="445.2" r="1.75"/>
<circle cx="399.17" cy="445.5" r="1.75"/>
<circle cx="407.1" cy="445.59" r="1.75"/>
<circle cx="415.02" cy="445.62" r="1.75"/>
<circle cx="422.94" cy="445.63" r="1.75"/>
<circle cx="430.87" cy="445.63" r="1.75"/>
<circle cx="438.79" cy="445.63" r="1.75"/>
<circle cx="446.71" cy="445.63" r="1.75"/>
<circle cx="454.64" cy="445.63" r="1.75"/>
</g>
<g fill="#0a8a0a">
<circle cx="296.16" cy="445.55" r="1.75"/>
<circle cx="304.09" cy="444.89" r="1.75"/>
<circle cx="312.01" cy="442.3" r="1.75"/>
<circle cx="319.93" cy="435.63" r="1.75"/>
<circle cx="327.86" cy="423.14" r="1.75"/>
<circle cx="335.78" cy="405.15" r="1.75"/>
<circle cx="343.7" cy="384.9" r="1.75"/>
<circle cx="351.63" cy="367.55" r="1.75"/>
<circle cx="359.55" cy="357.8" r="1.75"/>
<circle cx="367.48" cy="357.8" r="1.75"/>
<circle cx="375.4" cy="366.58" r="1.75"/>
<circle cx="383.32" cy="380.95" r="1.75"/>
<circle cx="391.25" cy="397.12" r="1.75"/>
<circle cx="399.17" cy="412.05" r="1.75"/>
<circle cx="407.1" cy="424.04" r="1.75"/>
<circle cx="415.02" cy="432.68" r="1.75"/>
<circle cx="422.94" cy="438.34" r="1.75"/>
<circle cx="430.87" cy="441.77" r="1.75"/>
<circle cx="438.79" cy="443.7" r="1.75"/>
<circle cx="446.71" cy="444.72" r="1.75"/>
<circle cx="454.64" cy="445.22" r="1.75"/>
</g>
</g>
<g stroke="#1a1a1a" stroke-width="1.2">
<line x1="296.16" y1="312.3" x2="296.16" y2="315.5"/>
<line x1="296.16" y1="445.63" x2="296.16" y2="442.43"/>
<line x1="335.78" y1="312.3" x2="335.78" y2="315.5"/>
<line x1="335.78" y1="445.63" x2="335.78" y2="442.43"/>
<line x1="375.4" y1="312.3" x2="375.4" y2="315.5"/>
<line x1="375.4" y1="445.63" x2="375.4" y2="442.43"/>
<line x1="415.02" y1="312.3" x2="415.02" y2="315.5"/>
<line x1="415.02" y1="445.63" x2="415.02" y2="442.43"/>
<line x1="454.64" y1="312.3" x2="454.64" y2="315.5"/>
<line x1="454.64" y1="445.63" x2="454.64" y2="442.43"/>
<line x1="292.2" y1="445.63" x2="295.4" y2="445.63"/>
<line x1="458.6" y1="445.63" x2="455.4" y2="445.63"/>
<line x1="292.2" y1="378.96" x2="295.4" y2="378.96"/>
<line x1="458.6" y1="378.96" x2="455.4" y2="378.96"/>
<line x1="292.2" y1="312.3" x2="295.4" y2="312.3"/>
<line x1="458.6" y1="312.3" x2="455.4" y2="312.3"/>
</g>
<text x="288.4" y="454.63" class="tl" text-anchor="end">0.0</text>
<text x="288.4" y="387.96" class="tl" text-anchor="end">0.1</text>
<text x="419" y="336.7" class="pl">(iii)</text>
<g fill="none" stroke="#1a1a1a" stroke-width="1.5">
<rect x="292.2" y="45.7" width="166.4" height="399.99"/>
<line x1="292.2" y1="179" x2="458.6" y2="179"/>
<line x1="292.2" y1="312.3" x2="458.6" y2="312.3"/>
</g>
<text x="296.16" y="467.8" class="tl" text-anchor="middle">0</text>
<text x="335.78" y="467.8" class="tl" text-anchor="middle">5</text>
<text x="375.4" y="467.8" class="tl" text-anchor="middle">10</text>
<text x="415.02" y="467.8" class="tl" text-anchor="middle">15</text>
<text x="454.64" y="467.8" class="tl" text-anchor="middle">20</text>
<text x="375.4" y="491" class="nl" text-anchor="middle">n</text>
<g clip-path="url(#c20)">
<g fill="none" stroke="rgba(0,0,255,0.10)" stroke-width="3.2">
<rect x="512.35" y="51.37" width="5.63" height="128.66"/>
<rect x="520.27" y="55.03" width="5.63" height="125"/>
<rect x="528.2" y="119.7" width="5.63" height="60.33"/>
<rect x="536.12" y="159.7" width="5.63" height="20.33"/>
<rect x="544.04" y="174.03" width="5.63" height="6"/>
<rect x="551.97" y="178.03" width="5.63" height="2"/>
</g>
<g fill="none" stroke="rgba(255,0,0,0.10)" stroke-width="3.2">
<rect x="512.35" y="173.03" width="5.63" height="7"/>
<rect x="520.27" y="153.36" width="5.63" height="26.67"/>
<rect x="528.2" y="126.7" width="5.63" height="53.33"/>
<rect x="536.12" y="112.7" width="5.63" height="67.33"/>
<rect x="544.04" y="113.36" width="5.63" height="66.67"/>
<rect x="551.97" y="128.2" width="5.63" height="51.83"/>
<rect x="559.89" y="144.36" width="5.63" height="35.67"/>
<rect x="567.82" y="160.03" width="5.63" height="20"/>
<rect x="575.74" y="169.03" width="5.63" height="11"/>
<rect x="583.66" y="174.7" width="5.63" height="5.33"/>
<rect x="591.59" y="177.36" width="5.63" height="2.67"/>
<rect x="599.51" y="178.36" width="5.63" height="1.67"/>
</g>
<g fill="none" stroke="rgba(0,160,0,0.12)" stroke-width="3.2">
<rect x="520.27" y="178.66" width="5.63" height="1.37"/>
<rect x="528.2" y="177.36" width="5.63" height="2.67"/>
<rect x="536.12" y="172.7" width="5.63" height="7.33"/>
<rect x="544.04" y="166.03" width="5.63" height="14"/>
<rect x="551.97" y="156.03" width="5.63" height="24"/>
<rect x="559.89" y="146.36" width="5.63" height="33.67"/>
<rect x="567.82" y="138.03" width="5.63" height="42"/>
<rect x="575.74" y="134.36" width="5.63" height="45.67"/>
<rect x="583.66" y="135.2" width="5.63" height="44.83"/>
<rect x="591.59" y="138.7" width="5.63" height="41.33"/>
<rect x="599.51" y="146.69" width="5.63" height="33.34"/>
<rect x="607.43" y="154.78" width="5.63" height="25.25"/>
<rect x="615.36" y="162.24" width="5.63" height="17.79"/>
<rect x="623.28" y="168.24" width="5.63" height="11.79"/>
<rect x="631.21" y="172.55" width="5.63" height="7.48"/>
<rect x="639.13" y="175.39" width="5.63" height="4.64"/>
<rect x="647.05" y="177.1" width="5.63" height="2.93"/>
<rect x="654.98" y="178.07" width="5.63" height="1.96"/>
<rect x="662.9" y="178.57" width="5.63" height="1.46"/>
<rect x="670.83" y="178.82" width="5.63" height="1.21"/>
</g>
<g fill="#0000ff" fill-opacity="0.2" stroke="rgba(70,70,255,0.85)" stroke-width="0.85">
<rect x="512.35" y="51.37" width="5.63" height="128.66"/>
<rect x="520.27" y="55.03" width="5.63" height="125"/>
<rect x="528.2" y="119.7" width="5.63" height="60.33"/>
<rect x="536.12" y="159.7" width="5.63" height="20.33"/>
<rect x="544.04" y="174.03" width="5.63" height="6"/>
<rect x="551.97" y="178.03" width="5.63" height="2"/>
</g>
<g fill="#ff0000" fill-opacity="0.17" stroke="rgba(255,70,70,0.85)" stroke-width="0.85">
<rect x="512.35" y="173.03" width="5.63" height="7"/>
<rect x="520.27" y="153.36" width="5.63" height="26.67"/>
<rect x="528.2" y="126.7" width="5.63" height="53.33"/>
<rect x="536.12" y="112.7" width="5.63" height="67.33"/>
<rect x="544.04" y="113.36" width="5.63" height="66.67"/>
<rect x="551.97" y="128.2" width="5.63" height="51.83"/>
<rect x="559.89" y="144.36" width="5.63" height="35.67"/>
<rect x="567.82" y="160.03" width="5.63" height="20"/>
<rect x="575.74" y="169.03" width="5.63" height="11"/>
<rect x="583.66" y="174.7" width="5.63" height="5.33"/>
<rect x="591.59" y="177.36" width="5.63" height="2.67"/>
<rect x="599.51" y="178.36" width="5.63" height="1.67"/>
</g>
<g fill="#008000" fill-opacity="0.2" stroke="rgba(40,150,40,0.8)" stroke-width="0.85">
<rect x="520.27" y="178.66" width="5.63" height="1.37"/>
<rect x="528.2" y="177.36" width="5.63" height="2.67"/>
<rect x="536.12" y="172.7" width="5.63" height="7.33"/>
<rect x="544.04" y="166.03" width="5.63" height="14"/>
<rect x="551.97" y="156.03" width="5.63" height="24"/>
<rect x="559.89" y="146.36" width="5.63" height="33.67"/>
<rect x="567.82" y="138.03" width="5.63" height="42"/>
<rect x="575.74" y="134.36" width="5.63" height="45.67"/>
<rect x="583.66" y="135.2" width="5.63" height="44.83"/>
<rect x="591.59" y="138.7" width="5.63" height="41.33"/>
<rect x="599.51" y="146.69" width="5.63" height="33.34"/>
<rect x="607.43" y="154.78" width="5.63" height="25.25"/>
<rect x="615.36" y="162.24" width="5.63" height="17.79"/>
<rect x="623.28" y="168.24" width="5.63" height="11.79"/>
<rect x="631.21" y="172.55" width="5.63" height="7.48"/>
<rect x="639.13" y="175.39" width="5.63" height="4.64"/>
<rect x="647.05" y="177.1" width="5.63" height="2.93"/>
<rect x="654.98" y="178.07" width="5.63" height="1.96"/>
<rect x="662.9" y="178.57" width="5.63" height="1.46"/>
<rect x="670.83" y="178.82" width="5.63" height="1.21"/>
</g>
<g fill="#1010ff">
<circle cx="515.16" cy="56.41" r="1.75"/>
<circle cx="523.09" cy="56.41" r="1.75"/>
<circle cx="531.01" cy="117.72" r="1.75"/>
<circle cx="538.93" cy="158.59" r="1.75"/>
<circle cx="546.86" cy="173.92" r="1.75"/>
<circle cx="554.78" cy="178.01" r="1.75"/>
<circle cx="562.7" cy="178.86" r="1.75"/>
<circle cx="570.63" cy="179.01" r="1.75"/>
<circle cx="578.55" cy="179.03" r="1.75"/>
<circle cx="586.48" cy="179.03" r="1.75"/>
<circle cx="594.4" cy="179.03" r="1.75"/>
<circle cx="602.32" cy="179.03" r="1.75"/>
<circle cx="610.25" cy="179.03" r="1.75"/>
<circle cx="618.17" cy="179.03" r="1.75"/>
<circle cx="626.1" cy="179.03" r="1.75"/>
<circle cx="634.02" cy="179.03" r="1.75"/>
<circle cx="641.94" cy="179.03" r="1.75"/>
<circle cx="649.87" cy="179.03" r="1.75"/>
<circle cx="657.79" cy="179.03" r="1.75"/>
<circle cx="665.71" cy="179.03" r="1.75"/>
<circle cx="673.64" cy="179.03" r="1.75"/>
</g>
<g fill="#ff1010">
<circle cx="515.16" cy="172.92" r="1.75"/>
<circle cx="523.09" cy="154.61" r="1.75"/>
<circle cx="531.01" cy="130.19" r="1.75"/>
<circle cx="538.93" cy="113.91" r="1.75"/>
<circle cx="546.86" cy="113.91" r="1.75"/>
<circle cx="554.78" cy="126.93" r="1.75"/>
<circle cx="562.7" cy="144.3" r="1.75"/>
<circle cx="570.63" cy="159.18" r="1.75"/>
<circle cx="578.55" cy="169.11" r="1.75"/>
<circle cx="586.48" cy="174.62" r="1.75"/>
<circle cx="594.4" cy="177.27" r="1.75"/>
<circle cx="602.32" cy="178.39" r="1.75"/>
<circle cx="610.25" cy="178.82" r="1.75"/>
<circle cx="618.17" cy="178.96" r="1.75"/>
<circle cx="626.1" cy="179.01" r="1.75"/>
<circle cx="634.02" cy="179.02" r="1.75"/>
<circle cx="641.94" cy="179.03" r="1.75"/>
<circle cx="649.87" cy="179.03" r="1.75"/>
<circle cx="657.79" cy="179.03" r="1.75"/>
<circle cx="665.71" cy="179.03" r="1.75"/>
<circle cx="673.64" cy="179.03" r="1.75"/>
</g>
<g fill="#0a8a0a">
<circle cx="515.16" cy="178.99" r="1.75"/>
<circle cx="523.09" cy="178.66" r="1.75"/>
<circle cx="531.01" cy="177.36" r="1.75"/>
<circle cx="538.93" cy="174.03" r="1.75"/>
<circle cx="546.86" cy="167.78" r="1.75"/>
<circle cx="554.78" cy="158.79" r="1.75"/>
<circle cx="562.7" cy="148.67" r="1.75"/>
<circle cx="570.63" cy="139.99" r="1.75"/>
<circle cx="578.55" cy="135.11" r="1.75"/>
<circle cx="586.48" cy="135.11" r="1.75"/>
<circle cx="594.4" cy="139.5" r="1.75"/>
<circle cx="602.32" cy="146.69" r="1.75"/>
<circle cx="610.25" cy="154.78" r="1.75"/>
<circle cx="618.17" cy="162.24" r="1.75"/>
<circle cx="626.1" cy="168.24" r="1.75"/>
<circle cx="634.02" cy="172.55" r="1.75"/>
<circle cx="641.94" cy="175.39" r="1.75"/>
<circle cx="649.87" cy="177.1" r="1.75"/>
<circle cx="657.79" cy="178.07" r="1.75"/>
<circle cx="665.71" cy="178.57" r="1.75"/>
<circle cx="673.64" cy="178.82" r="1.75"/>
</g>
</g>
<g stroke="#1a1a1a" stroke-width="1.2">
<line x1="515.16" y1="45.7" x2="515.16" y2="48.9"/>
<line x1="515.16" y1="179.03" x2="515.16" y2="175.83"/>
<line x1="554.78" y1="45.7" x2="554.78" y2="48.9"/>
<line x1="554.78" y1="179.03" x2="554.78" y2="175.83"/>
<line x1="594.4" y1="45.7" x2="594.4" y2="48.9"/>
<line x1="594.4" y1="179.03" x2="594.4" y2="175.83"/>
<line x1="634.02" y1="45.7" x2="634.02" y2="48.9"/>
<line x1="634.02" y1="179.03" x2="634.02" y2="175.83"/>
<line x1="673.64" y1="45.7" x2="673.64" y2="48.9"/>
<line x1="673.64" y1="179.03" x2="673.64" y2="175.83"/>
<line x1="511.2" y1="179.03" x2="514.4" y2="179.03"/>
<line x1="677.6" y1="179.03" x2="674.4" y2="179.03"/>
<line x1="511.2" y1="145.7" x2="514.4" y2="145.7"/>
<line x1="677.6" y1="145.7" x2="674.4" y2="145.7"/>
<line x1="511.2" y1="112.37" x2="514.4" y2="112.37"/>
<line x1="677.6" y1="112.37" x2="674.4" y2="112.37"/>
<line x1="511.2" y1="79.03" x2="514.4" y2="79.03"/>
<line x1="677.6" y1="79.03" x2="674.4" y2="79.03"/>
<line x1="511.2" y1="45.7" x2="514.4" y2="45.7"/>
<line x1="677.6" y1="45.7" x2="674.4" y2="45.7"/>
</g>
<text x="507.4" y="187.93" class="tl" text-anchor="end">0.0</text>
<text x="507.4" y="153.1" class="tl" text-anchor="end">0.1</text>
<text x="507.4" y="119.77" class="tl" text-anchor="end">0.2</text>
<text x="507.4" y="86.43" class="tl" text-anchor="end">0.3</text>
<text x="507.4" y="51.9" class="tl" text-anchor="end">0.4</text>
<text x="642.4" y="70.6" class="pl">(i)</text>
<g clip-path="url(#c21)">
<g fill="none" stroke="rgba(0,0,255,0.10)" stroke-width="3.2">
<rect x="512.35" y="186" width="5.63" height="127.33"/>
<rect x="520.27" y="191.67" width="5.63" height="121.66"/>
<rect x="528.2" y="253.66" width="5.63" height="59.67"/>
<rect x="536.12" y="291.8" width="5.63" height="21.53"/>
<rect x="544.04" y="306.83" width="5.63" height="6.5"/>
<rect x="551.97" y="311" width="5.63" height="2.33"/>
</g>
<g fill="none" stroke="rgba(255,0,0,0.10)" stroke-width="3.2">
<rect x="512.35" y="305.33" width="5.63" height="8"/>
<rect x="520.27" y="285.33" width="5.63" height="28"/>
<rect x="528.2" y="260" width="5.63" height="53.33"/>
<rect x="536.12" y="246.33" width="5.63" height="67"/>
<rect x="544.04" y="247" width="5.63" height="66.33"/>
<rect x="551.97" y="262.33" width="5.63" height="51"/>
<rect x="559.89" y="279.66" width="5.63" height="33.67"/>
<rect x="567.82" y="291.8" width="5.63" height="21.53"/>
<rect x="575.74" y="302.33" width="5.63" height="11"/>
<rect x="583.66" y="308" width="5.63" height="5.33"/>
<rect x="591.59" y="310.66" width="5.63" height="2.67"/>
<rect x="599.51" y="311.66" width="5.63" height="1.67"/>
</g>
<g fill="none" stroke="rgba(0,160,0,0.12)" stroke-width="3.2">
<rect x="520.27" y="311.96" width="5.63" height="1.37"/>
<rect x="528.2" y="310.66" width="5.63" height="2.67"/>
<rect x="536.12" y="306" width="5.63" height="7.33"/>
<rect x="544.04" y="299.33" width="5.63" height="14"/>
<rect x="551.97" y="289.33" width="5.63" height="24"/>
<rect x="559.89" y="279.66" width="5.63" height="33.67"/>
<rect x="567.82" y="271.33" width="5.63" height="42"/>
<rect x="575.74" y="267.66" width="5.63" height="45.67"/>
<rect x="583.66" y="268.5" width="5.63" height="44.83"/>
<rect x="591.59" y="272" width="5.63" height="41.33"/>
<rect x="599.51" y="279.99" width="5.63" height="33.34"/>
<rect x="607.43" y="288.08" width="5.63" height="25.25"/>
<rect x="615.36" y="295.54" width="5.63" height="17.79"/>
<rect x="623.28" y="301.54" width="5.63" height="11.79"/>
<rect x="631.21" y="305.85" width="5.63" height="7.48"/>
<rect x="639.13" y="308.69" width="5.63" height="4.64"/>
<rect x="647.05" y="310.4" width="5.63" height="2.93"/>
<rect x="654.98" y="311.37" width="5.63" height="1.96"/>
<rect x="662.9" y="311.87" width="5.63" height="1.46"/>
<rect x="670.83" y="312.12" width="5.63" height="1.21"/>
</g>
<g fill="#0000ff" fill-opacity="0.2" stroke="rgba(70,70,255,0.85)" stroke-width="0.85">
<rect x="512.35" y="186" width="5.63" height="127.33"/>
<rect x="520.27" y="191.67" width="5.63" height="121.66"/>
<rect x="528.2" y="253.66" width="5.63" height="59.67"/>
<rect x="536.12" y="291.8" width="5.63" height="21.53"/>
<rect x="544.04" y="306.83" width="5.63" height="6.5"/>
<rect x="551.97" y="311" width="5.63" height="2.33"/>
</g>
<g fill="#ff0000" fill-opacity="0.17" stroke="rgba(255,70,70,0.85)" stroke-width="0.85">
<rect x="512.35" y="305.33" width="5.63" height="8"/>
<rect x="520.27" y="285.33" width="5.63" height="28"/>
<rect x="528.2" y="260" width="5.63" height="53.33"/>
<rect x="536.12" y="246.33" width="5.63" height="67"/>
<rect x="544.04" y="247" width="5.63" height="66.33"/>
<rect x="551.97" y="262.33" width="5.63" height="51"/>
<rect x="559.89" y="279.66" width="5.63" height="33.67"/>
<rect x="567.82" y="291.8" width="5.63" height="21.53"/>
<rect x="575.74" y="302.33" width="5.63" height="11"/>
<rect x="583.66" y="308" width="5.63" height="5.33"/>
<rect x="591.59" y="310.66" width="5.63" height="2.67"/>
<rect x="599.51" y="311.66" width="5.63" height="1.67"/>
</g>
<g fill="#008000" fill-opacity="0.2" stroke="rgba(40,150,40,0.8)" stroke-width="0.85">
<rect x="520.27" y="311.96" width="5.63" height="1.37"/>
<rect x="528.2" y="310.66" width="5.63" height="2.67"/>
<rect x="536.12" y="306" width="5.63" height="7.33"/>
<rect x="544.04" y="299.33" width="5.63" height="14"/>
<rect x="551.97" y="289.33" width="5.63" height="24"/>
<rect x="559.89" y="279.66" width="5.63" height="33.67"/>
<rect x="567.82" y="271.33" width="5.63" height="42"/>
<rect x="575.74" y="267.66" width="5.63" height="45.67"/>
<rect x="583.66" y="268.5" width="5.63" height="44.83"/>
<rect x="591.59" y="272" width="5.63" height="41.33"/>
<rect x="599.51" y="279.99" width="5.63" height="33.34"/>
<rect x="607.43" y="288.08" width="5.63" height="25.25"/>
<rect x="615.36" y="295.54" width="5.63" height="17.79"/>
<rect x="623.28" y="301.54" width="5.63" height="11.79"/>
<rect x="631.21" y="305.85" width="5.63" height="7.48"/>
<rect x="639.13" y="308.69" width="5.63" height="4.64"/>
<rect x="647.05" y="310.4" width="5.63" height="2.93"/>
<rect x="654.98" y="311.37" width="5.63" height="1.96"/>
<rect x="662.9" y="311.87" width="5.63" height="1.46"/>
<rect x="670.83" y="312.12" width="5.63" height="1.21"/>
</g>
<g fill="#1010ff">
<circle cx="515.16" cy="189.71" r="1.75"/>
<circle cx="523.09" cy="189.71" r="1.75"/>
<circle cx="531.01" cy="251.02" r="1.75"/>
<circle cx="538.93" cy="291.89" r="1.75"/>
<circle cx="546.86" cy="307.22" r="1.75"/>
<circle cx="554.78" cy="311.31" r="1.75"/>
<circle cx="562.7" cy="312.16" r="1.75"/>
<circle cx="570.63" cy="312.31" r="1.75"/>
<circle cx="578.55" cy="312.33" r="1.75"/>
<circle cx="586.48" cy="312.33" r="1.75"/>
<circle cx="594.4" cy="312.33" r="1.75"/>
<circle cx="602.32" cy="312.33" r="1.75"/>
<circle cx="610.25" cy="312.33" r="1.75"/>
<circle cx="618.17" cy="312.33" r="1.75"/>
<circle cx="626.1" cy="312.33" r="1.75"/>
<circle cx="634.02" cy="312.33" r="1.75"/>
<circle cx="641.94" cy="312.33" r="1.75"/>
<circle cx="649.87" cy="312.33" r="1.75"/>
<circle cx="657.79" cy="312.33" r="1.75"/>
<circle cx="665.71" cy="312.33" r="1.75"/>
<circle cx="673.64" cy="312.33" r="1.75"/>
</g>
<g fill="#ff1010">
<circle cx="515.16" cy="306.22" r="1.75"/>
<circle cx="523.09" cy="287.91" r="1.75"/>
<circle cx="531.01" cy="263.49" r="1.75"/>
<circle cx="538.93" cy="247.21" r="1.75"/>
<circle cx="546.86" cy="247.21" r="1.75"/>
<circle cx="554.78" cy="260.23" r="1.75"/>
<circle cx="562.7" cy="277.6" r="1.75"/>
<circle cx="570.63" cy="292.48" r="1.75"/>
<circle cx="578.55" cy="302.41" r="1.75"/>
<circle cx="586.48" cy="307.92" r="1.75"/>
<circle cx="594.4" cy="310.57" r="1.75"/>
<circle cx="602.32" cy="311.69" r="1.75"/>
<circle cx="610.25" cy="312.12" r="1.75"/>
<circle cx="618.17" cy="312.26" r="1.75"/>
<circle cx="626.1" cy="312.31" r="1.75"/>
<circle cx="634.02" cy="312.32" r="1.75"/>
<circle cx="641.94" cy="312.33" r="1.75"/>
<circle cx="649.87" cy="312.33" r="1.75"/>
<circle cx="657.79" cy="312.33" r="1.75"/>
<circle cx="665.71" cy="312.33" r="1.75"/>
<circle cx="673.64" cy="312.33" r="1.75"/>
</g>
<g fill="#0a8a0a">
<circle cx="515.16" cy="312.29" r="1.75"/>
<circle cx="523.09" cy="311.96" r="1.75"/>
<circle cx="531.01" cy="310.66" r="1.75"/>
<circle cx="538.93" cy="307.33" r="1.75"/>
<circle cx="546.86" cy="301.08" r="1.75"/>
<circle cx="554.78" cy="292.09" r="1.75"/>
<circle cx="562.7" cy="281.97" r="1.75"/>
<circle cx="570.63" cy="273.29" r="1.75"/>
<circle cx="578.55" cy="268.41" r="1.75"/>
<circle cx="586.48" cy="268.41" r="1.75"/>
<circle cx="594.4" cy="272.8" r="1.75"/>
<circle cx="602.32" cy="279.99" r="1.75"/>
<circle cx="610.25" cy="288.08" r="1.75"/>
<circle cx="618.17" cy="295.54" r="1.75"/>
<circle cx="626.1" cy="301.54" r="1.75"/>
<circle cx="634.02" cy="305.85" r="1.75"/>
<circle cx="641.94" cy="308.69" r="1.75"/>
<circle cx="649.87" cy="310.4" r="1.75"/>
<circle cx="657.79" cy="311.37" r="1.75"/>
<circle cx="665.71" cy="311.87" r="1.75"/>
<circle cx="673.64" cy="312.12" r="1.75"/>
</g>
</g>
<g stroke="#1a1a1a" stroke-width="1.2">
<line x1="515.16" y1="179" x2="515.16" y2="182.2"/>
<line x1="515.16" y1="312.33" x2="515.16" y2="309.13"/>
<line x1="554.78" y1="179" x2="554.78" y2="182.2"/>
<line x1="554.78" y1="312.33" x2="554.78" y2="309.13"/>
<line x1="594.4" y1="179" x2="594.4" y2="182.2"/>
<line x1="594.4" y1="312.33" x2="594.4" y2="309.13"/>
<line x1="634.02" y1="179" x2="634.02" y2="182.2"/>
<line x1="634.02" y1="312.33" x2="634.02" y2="309.13"/>
<line x1="673.64" y1="179" x2="673.64" y2="182.2"/>
<line x1="673.64" y1="312.33" x2="673.64" y2="309.13"/>
<line x1="511.2" y1="312.33" x2="514.4" y2="312.33"/>
<line x1="677.6" y1="312.33" x2="674.4" y2="312.33"/>
<line x1="511.2" y1="279" x2="514.4" y2="279"/>
<line x1="677.6" y1="279" x2="674.4" y2="279"/>
<line x1="511.2" y1="245.67" x2="514.4" y2="245.67"/>
<line x1="677.6" y1="245.67" x2="674.4" y2="245.67"/>
<line x1="511.2" y1="212.33" x2="514.4" y2="212.33"/>
<line x1="677.6" y1="212.33" x2="674.4" y2="212.33"/>
<line x1="511.2" y1="179" x2="514.4" y2="179"/>
<line x1="677.6" y1="179" x2="674.4" y2="179"/>
</g>
<text x="507.4" y="321.23" class="tl" text-anchor="end">0.0</text>
<text x="507.4" y="286.4" class="tl" text-anchor="end">0.1</text>
<text x="507.4" y="253.07" class="tl" text-anchor="end">0.2</text>
<text x="507.4" y="219.73" class="tl" text-anchor="end">0.3</text>
<text x="638.2" y="202.9" class="pl">(ii)</text>
<g clip-path="url(#c22)">
<g fill="none" stroke="rgba(0,0,255,0.10)" stroke-width="3.2">
<rect x="512.35" y="323.3" width="5.63" height="123.33"/>
<rect x="520.27" y="345.63" width="5.63" height="101"/>
<rect x="528.2" y="386.63" width="5.63" height="60"/>
<rect x="536.12" y="415.96" width="5.63" height="30.67"/>
<rect x="544.04" y="431.63" width="5.63" height="15"/>
<rect x="551.97" y="439.96" width="5.63" height="6.67"/>
<rect x="559.89" y="443.3" width="5.63" height="3.33"/>
<rect x="567.82" y="444.96" width="5.63" height="1.67"/>
</g>
<g fill="none" stroke="rgba(255,0,0,0.10)" stroke-width="3.2">
<rect x="512.35" y="432.96" width="5.63" height="13.67"/>
<rect x="520.27" y="412.96" width="5.63" height="33.67"/>
<rect x="528.2" y="395.96" width="5.63" height="50.67"/>
<rect x="536.12" y="389.63" width="5.63" height="57"/>
<rect x="544.04" y="392.63" width="5.63" height="54"/>
<rect x="551.97" y="401.96" width="5.63" height="44.67"/>
<rect x="559.89" y="412.96" width="5.63" height="33.67"/>
<rect x="567.82" y="422.96" width="5.63" height="23.67"/>
<rect x="575.74" y="430.96" width="5.63" height="15.67"/>
<rect x="583.66" y="436.63" width="5.63" height="10"/>
<rect x="591.59" y="440.63" width="5.63" height="6"/>
<rect x="599.51" y="442.96" width="5.63" height="3.67"/>
<rect x="607.43" y="444.3" width="5.63" height="2.33"/>
<rect x="615.36" y="444.96" width="5.63" height="1.67"/>
</g>
<g fill="none" stroke="rgba(0,160,0,0.12)" stroke-width="3.2">
<rect x="512.35" y="445.3" width="5.63" height="1.33"/>
<rect x="520.27" y="444.63" width="5.63" height="2"/>
<rect x="528.2" y="441.3" width="5.63" height="5.33"/>
<rect x="536.12" y="435.63" width="5.63" height="11"/>
<rect x="544.04" y="428.63" width="5.63" height="18"/>
<rect x="551.97" y="420.63" width="5.63" height="26"/>
<rect x="559.89" y="414.3" width="5.63" height="32.33"/>
<rect x="567.82" y="409.8" width="5.63" height="36.83"/>
<rect x="575.74" y="408.63" width="5.63" height="38"/>
<rect x="583.66" y="409.8" width="5.63" height="36.83"/>
<rect x="591.59" y="413.63" width="5.63" height="33"/>
<rect x="599.51" y="418.63" width="5.63" height="28"/>
<rect x="607.43" y="423.8" width="5.63" height="22.83"/>
<rect x="615.36" y="429.3" width="5.63" height="17.33"/>
<rect x="623.28" y="433.13" width="5.63" height="13.5"/>
<rect x="631.21" y="436.96" width="5.63" height="9.67"/>
<rect x="639.13" y="439.3" width="5.63" height="7.33"/>
<rect x="647.05" y="441.96" width="5.63" height="4.67"/>
<rect x="654.98" y="443.63" width="5.63" height="3"/>
<rect x="662.9" y="444.3" width="5.63" height="2.33"/>
<rect x="670.83" y="444.63" width="5.63" height="2"/>
</g>
<g fill="#0000ff" fill-opacity="0.2" stroke="rgba(70,70,255,0.85)" stroke-width="0.85">
<rect x="512.35" y="323.3" width="5.63" height="123.33"/>
<rect x="520.27" y="345.63" width="5.63" height="101"/>
<rect x="528.2" y="386.63" width="5.63" height="60"/>
<rect x="536.12" y="415.96" width="5.63" height="30.67"/>
<rect x="544.04" y="431.63" width="5.63" height="15"/>
<rect x="551.97" y="439.96" width="5.63" height="6.67"/>
<rect x="559.89" y="443.3" width="5.63" height="3.33"/>
<rect x="567.82" y="444.96" width="5.63" height="1.67"/>
</g>
<g fill="#ff0000" fill-opacity="0.17" stroke="rgba(255,70,70,0.85)" stroke-width="0.85">
<rect x="512.35" y="432.96" width="5.63" height="13.67"/>
<rect x="520.27" y="412.96" width="5.63" height="33.67"/>
<rect x="528.2" y="395.96" width="5.63" height="50.67"/>
<rect x="536.12" y="389.63" width="5.63" height="57"/>
<rect x="544.04" y="392.63" width="5.63" height="54"/>
<rect x="551.97" y="401.96" width="5.63" height="44.67"/>
<rect x="559.89" y="412.96" width="5.63" height="33.67"/>
<rect x="567.82" y="422.96" width="5.63" height="23.67"/>
<rect x="575.74" y="430.96" width="5.63" height="15.67"/>
<rect x="583.66" y="436.63" width="5.63" height="10"/>
<rect x="591.59" y="440.63" width="5.63" height="6"/>
<rect x="599.51" y="442.96" width="5.63" height="3.67"/>
<rect x="607.43" y="444.3" width="5.63" height="2.33"/>
<rect x="615.36" y="444.96" width="5.63" height="1.67"/>
</g>
<g fill="#008000" fill-opacity="0.2" stroke="rgba(40,150,40,0.8)" stroke-width="0.85">
<rect x="512.35" y="445.3" width="5.63" height="1.33"/>
<rect x="520.27" y="444.63" width="5.63" height="2"/>
<rect x="528.2" y="441.3" width="5.63" height="5.33"/>
<rect x="536.12" y="435.63" width="5.63" height="11"/>
<rect x="544.04" y="428.63" width="5.63" height="18"/>
<rect x="551.97" y="420.63" width="5.63" height="26"/>
<rect x="559.89" y="414.3" width="5.63" height="32.33"/>
<rect x="567.82" y="409.8" width="5.63" height="36.83"/>
<rect x="575.74" y="408.63" width="5.63" height="38"/>
<rect x="583.66" y="409.8" width="5.63" height="36.83"/>
<rect x="591.59" y="413.63" width="5.63" height="33"/>
<rect x="599.51" y="418.63" width="5.63" height="28"/>
<rect x="607.43" y="423.8" width="5.63" height="22.83"/>
<rect x="615.36" y="429.3" width="5.63" height="17.33"/>
<rect x="623.28" y="433.13" width="5.63" height="13.5"/>
<rect x="631.21" y="436.96" width="5.63" height="9.67"/>
<rect x="639.13" y="439.3" width="5.63" height="7.33"/>
<rect x="647.05" y="441.96" width="5.63" height="4.67"/>
<rect x="654.98" y="443.63" width="5.63" height="3"/>
<rect x="662.9" y="444.3" width="5.63" height="2.33"/>
<rect x="670.83" y="444.63" width="5.63" height="2"/>
</g>
<g fill="#1010ff">
<circle cx="515.16" cy="323.01" r="1.75"/>
<circle cx="523.09" cy="323.01" r="1.75"/>
<circle cx="531.01" cy="384.32" r="1.75"/>
<circle cx="538.93" cy="425.19" r="1.75"/>
<circle cx="546.86" cy="440.52" r="1.75"/>
<circle cx="554.78" cy="444.61" r="1.75"/>
<circle cx="562.7" cy="445.46" r="1.75"/>
<circle cx="570.63" cy="445.61" r="1.75"/>
<circle cx="578.55" cy="445.63" r="1.75"/>
<circle cx="586.48" cy="445.63" r="1.75"/>
<circle cx="594.4" cy="445.63" r="1.75"/>
<circle cx="602.32" cy="445.63" r="1.75"/>
<circle cx="610.25" cy="445.63" r="1.75"/>
<circle cx="618.17" cy="445.63" r="1.75"/>
<circle cx="626.1" cy="445.63" r="1.75"/>
<circle cx="634.02" cy="445.63" r="1.75"/>
<circle cx="641.94" cy="445.63" r="1.75"/>
<circle cx="649.87" cy="445.63" r="1.75"/>
<circle cx="657.79" cy="445.63" r="1.75"/>
<circle cx="665.71" cy="445.63" r="1.75"/>
<circle cx="673.64" cy="445.63" r="1.75"/>
</g>
<g fill="#ff1010">
<circle cx="515.16" cy="439.52" r="1.75"/>
<circle cx="523.09" cy="421.21" r="1.75"/>
<circle cx="531.01" cy="396.79" r="1.75"/>
<circle cx="538.93" cy="380.51" r="1.75"/>
<circle cx="546.86" cy="380.51" r="1.75"/>
<circle cx="554.78" cy="393.53" r="1.75"/>
<circle cx="562.7" cy="410.9" r="1.75"/>
<circle cx="570.63" cy="425.78" r="1.75"/>
<circle cx="578.55" cy="435.71" r="1.75"/>
<circle cx="586.48" cy="441.22" r="1.75"/>
<circle cx="594.4" cy="443.87" r="1.75"/>
<circle cx="602.32" cy="444.99" r="1.75"/>
<circle cx="610.25" cy="445.42" r="1.75"/>
<circle cx="618.17" cy="445.56" r="1.75"/>
<circle cx="626.1" cy="445.61" r="1.75"/>
<circle cx="634.02" cy="445.62" r="1.75"/>
<circle cx="641.94" cy="445.63" r="1.75"/>
<circle cx="649.87" cy="445.63" r="1.75"/>
<circle cx="657.79" cy="445.63" r="1.75"/>
<circle cx="665.71" cy="445.63" r="1.75"/>
<circle cx="673.64" cy="445.63" r="1.75"/>
</g>
<g fill="#0a8a0a">
<circle cx="515.16" cy="445.59" r="1.75"/>
<circle cx="523.09" cy="445.26" r="1.75"/>
<circle cx="531.01" cy="443.96" r="1.75"/>
<circle cx="538.93" cy="440.63" r="1.75"/>
<circle cx="546.86" cy="434.38" r="1.75"/>
<circle cx="554.78" cy="425.39" r="1.75"/>
<circle cx="562.7" cy="415.27" r="1.75"/>
<circle cx="570.63" cy="406.59" r="1.75"/>
<circle cx="578.55" cy="401.71" r="1.75"/>
<circle cx="586.48" cy="401.71" r="1.75"/>
<circle cx="594.4" cy="406.1" r="1.75"/>
<circle cx="602.32" cy="413.29" r="1.75"/>
<circle cx="610.25" cy="421.38" r="1.75"/>
<circle cx="618.17" cy="428.84" r="1.75"/>
<circle cx="626.1" cy="434.84" r="1.75"/>
<circle cx="634.02" cy="439.15" r="1.75"/>
<circle cx="641.94" cy="441.99" r="1.75"/>
<circle cx="649.87" cy="443.7" r="1.75"/>
<circle cx="657.79" cy="444.67" r="1.75"/>
<circle cx="665.71" cy="445.17" r="1.75"/>
<circle cx="673.64" cy="445.42" r="1.75"/>
</g>
</g>
<g stroke="#1a1a1a" stroke-width="1.2">
<line x1="515.16" y1="312.3" x2="515.16" y2="315.5"/>
<line x1="515.16" y1="445.63" x2="515.16" y2="442.43"/>
<line x1="554.78" y1="312.3" x2="554.78" y2="315.5"/>
<line x1="554.78" y1="445.63" x2="554.78" y2="442.43"/>
<line x1="594.4" y1="312.3" x2="594.4" y2="315.5"/>
<line x1="594.4" y1="445.63" x2="594.4" y2="442.43"/>
<line x1="634.02" y1="312.3" x2="634.02" y2="315.5"/>
<line x1="634.02" y1="445.63" x2="634.02" y2="442.43"/>
<line x1="673.64" y1="312.3" x2="673.64" y2="315.5"/>
<line x1="673.64" y1="445.63" x2="673.64" y2="442.43"/>
<line x1="511.2" y1="445.63" x2="514.4" y2="445.63"/>
<line x1="677.6" y1="445.63" x2="674.4" y2="445.63"/>
<line x1="511.2" y1="412.3" x2="514.4" y2="412.3"/>
<line x1="677.6" y1="412.3" x2="674.4" y2="412.3"/>
<line x1="511.2" y1="378.96" x2="514.4" y2="378.96"/>
<line x1="677.6" y1="378.96" x2="674.4" y2="378.96"/>
<line x1="511.2" y1="345.63" x2="514.4" y2="345.63"/>
<line x1="677.6" y1="345.63" x2="674.4" y2="345.63"/>
<line x1="511.2" y1="312.3" x2="514.4" y2="312.3"/>
<line x1="677.6" y1="312.3" x2="674.4" y2="312.3"/>
</g>
<text x="507.4" y="454.53" class="tl" text-anchor="end">0.0</text>
<text x="507.4" y="419.7" class="tl" text-anchor="end">0.1</text>
<text x="507.4" y="386.37" class="tl" text-anchor="end">0.2</text>
<text x="507.4" y="353.03" class="tl" text-anchor="end">0.3</text>
<text x="638" y="336.7" class="pl">(iii)</text>
<g fill="none" stroke="#1a1a1a" stroke-width="1.5">
<rect x="511.2" y="45.7" width="166.4" height="399.99"/>
<line x1="511.2" y1="179" x2="677.6" y2="179"/>
<line x1="511.2" y1="312.3" x2="677.6" y2="312.3"/>
</g>
<text x="515.16" y="467.8" class="tl" text-anchor="middle">0</text>
<text x="554.78" y="467.8" class="tl" text-anchor="middle">5</text>
<text x="594.4" y="467.8" class="tl" text-anchor="middle">10</text>
<text x="634.02" y="467.8" class="tl" text-anchor="middle">15</text>
<text x="673.64" y="467.8" class="tl" text-anchor="middle">20</text>
<text x="594.4" y="491" class="nl" text-anchor="middle">n</text>
<text transform="translate(36.85,28) scale(0.89,1)" style="font-family:'Liberation Sans', sans-serif;font-weight:bold;font-size:32.5px" fill="#111" >a</text>
<text transform="translate(255.32,28.2) scale(0.93,1)" style="font-family:'Liberation Sans', sans-serif;font-weight:bold;font-size:34px" fill="#111" >b</text>
<text transform="translate(473.1,28.2) scale(0.87,1)" style="font-family:'Liberation Sans', sans-serif;font-weight:bold;font-size:32.5px" fill="#111" >c</text>
<text x="94.22" y="35.1" style="font-family:'Liberation Serif', serif;font-style:italic;font-size:30px" fill="#111" >δ</text>
<text x="117.14" y="37.1" style="font-family:'Liberation Sans', sans-serif;font-size:30px" fill="#111" >=</text>
<text x="144.43" y="35.1" style="font-family:'Liberation Sans', sans-serif;font-size:30px" fill="#111" >0</text>
<text x="161.86" y="35.1" style="font-family:'Liberation Sans', sans-serif;font-size:30px" fill="#111" >.</text>
<text x="169.91" y="35.1" style="font-family:'Liberation Sans', sans-serif;font-size:30px" fill="#111" >1</text>
<text x="184.7" y="35.1" style="font-family:'Liberation Serif', serif;font-style:italic;font-size:30px" fill="#111" >ω</text>
<text x="205.85" y="40.7" style="font-family:'Liberation Sans', sans-serif;font-size:20px" fill="#111" >e</text>
<text x="341.72" y="35.1" style="font-family:'Liberation Serif', serif;font-style:italic;font-size:30px" fill="#111" >δ</text>
<text x="364.44" y="37.1" style="font-family:'Liberation Sans', sans-serif;font-size:30px" fill="#111" >=</text>
<text x="391.53" y="35.1" style="font-family:'Liberation Sans', sans-serif;font-size:30px" fill="#111" >0</text>
<text x="530.72" y="35.1" style="font-family:'Liberation Serif', serif;font-style:italic;font-size:30px" fill="#111" >δ</text>
<text x="545.44" y="37.1" style="font-family:'Liberation Sans', sans-serif;font-size:30px" fill="#111" >=</text>
<text x="563.92" y="37.3" style="font-family:'Liberation Sans', sans-serif;font-size:30px" fill="#111" >−</text>
<text x="583.23" y="35.1" style="font-family:'Liberation Sans', sans-serif;font-size:30px" fill="#111" >0</text>
<text x="599.06" y="35.1" style="font-family:'Liberation Sans', sans-serif;font-size:30px" fill="#111" >.</text>
<text x="608.61" y="35.1" style="font-family:'Liberation Sans', sans-serif;font-size:30px" fill="#111" >1</text>
<text x="622.9" y="35.1" style="font-family:'Liberation Serif', serif;font-style:italic;font-size:30px" fill="#111" >ω</text>
<text x="644.35" y="40.7" style="font-family:'Liberation Sans', sans-serif;font-size:20px" fill="#111" >e</text>
<rect x="152.5" y="96.5" width="4.3" height="10.5" fill="#0000ff" fill-opacity="0.2"/>
<path d="M145.2 107 H152.5 V96.5 H156.8 V107 H163.6" fill="none" stroke="#4646f0" stroke-width="1.2"/>
<text x="171.84" y="105.6" style="font-family:'Liberation Serif', serif;font-style:italic;font-size:15.5px" fill="#3a3a3a" >α</text>
<text x="181.78" y="108.9" style="font-family:'Liberation Sans', sans-serif;font-size:10.8px" fill="#3a3a3a" >0</text>
<text x="194.39" y="107" style="font-family:'Liberation Sans', sans-serif;font-size:16.5px" fill="#3a3a3a" >=</text>
<text x="210.87" y="105.6" style="font-family:'Liberation Sans', sans-serif;font-size:16.2px" fill="#3a3a3a" >1</text>
<rect x="152.5" y="112.5" width="4.3" height="10.5" fill="#ff0000" fill-opacity="0.17"/>
<path d="M145.2 123 H152.5 V112.5 H156.8 V123 H163.6" fill="none" stroke="#f05a5a" stroke-width="1.2"/>
<text x="171.84" y="121.6" style="font-family:'Liberation Serif', serif;font-style:italic;font-size:15.5px" fill="#3a3a3a" >α</text>
<text x="181.78" y="124.9" style="font-family:'Liberation Sans', sans-serif;font-size:10.8px" fill="#3a3a3a" >0</text>
<text x="194.39" y="123" style="font-family:'Liberation Sans', sans-serif;font-size:16.5px" fill="#3a3a3a" >=</text>
<text x="210.19" y="121.6" style="font-family:'Liberation Sans', sans-serif;font-size:16.2px" fill="#3a3a3a" >2</text>
<rect x="152.5" y="128.5" width="4.3" height="10.5" fill="#008000" fill-opacity="0.2"/>
<path d="M145.2 139 H152.5 V128.5 H156.8 V139 H163.6" fill="none" stroke="#3c9a3c" stroke-width="1.2"/>
<text x="171.84" y="137.6" style="font-family:'Liberation Serif', serif;font-style:italic;font-size:15.5px" fill="#3a3a3a" >α</text>
<text x="181.78" y="140.9" style="font-family:'Liberation Sans', sans-serif;font-size:10.8px" fill="#3a3a3a" >0</text>
<text x="194.39" y="139" style="font-family:'Liberation Sans', sans-serif;font-size:16.5px" fill="#3a3a3a" >=</text>
<text x="210.38" y="137.6" style="font-family:'Liberation Sans', sans-serif;font-size:16.2px" fill="#3a3a3a" >3</text>
<g transform="translate(24.5,349.2) rotate(-90)">
<path d="M7.4 -20.3 L0.4 -7.5 L7.4 5.3" fill="none" stroke="#111" stroke-width="1.3"/>
<text x="8.32" y="0.3" style="font-family:'Liberation Serif', serif;font-style:italic;font-size:33px" fill="#111">n</text>
<path d="M33 -19.8 V0.6" stroke="#111" stroke-width="1.6"/>
<text x="43.14" y="-0" style="font-family:'Liberation Serif', serif;font-style:italic;font-size:29px" fill="#111">ρ</text>
<text x="59.78" y="-0.6" style="font-family:'Liberation Serif', serif;font-size:27.7px" fill="#111">(</text>
<text x="67.88" y="-0.2" style="font-family:'Liberation Serif', serif;font-style:italic;font-size:34.5px" fill="#111">t</text>
<path d="M86.3 -7.4 H105.2 M99.8 -12.9 L105.4 -7.4 L99.8 -1.9" fill="none" stroke="#111" stroke-width="1.3"/>
<text transform="translate(115.73,3.1) scale(1.06,0.94)" style="font-family:'Liberation Serif', serif;font-size:34px" fill="#111">∞</text>
<text x="141.21" y="-0.6" style="font-family:'Liberation Serif', serif;font-size:27.7px" fill="#111">)</text>
<path d="M159.8 -19.9 V0.5" stroke="#111" stroke-width="1.6"/>
<text x="168.02" y="0.1" style="font-family:'Liberation Serif', serif;font-style:italic;font-size:33px" fill="#111">n</text>
<path d="M186.1 -20.0 L193.2 -7.4 L186.1 5.2" fill="none" stroke="#111" stroke-width="1.3"/>
</g>
</svg>
</body></html>
